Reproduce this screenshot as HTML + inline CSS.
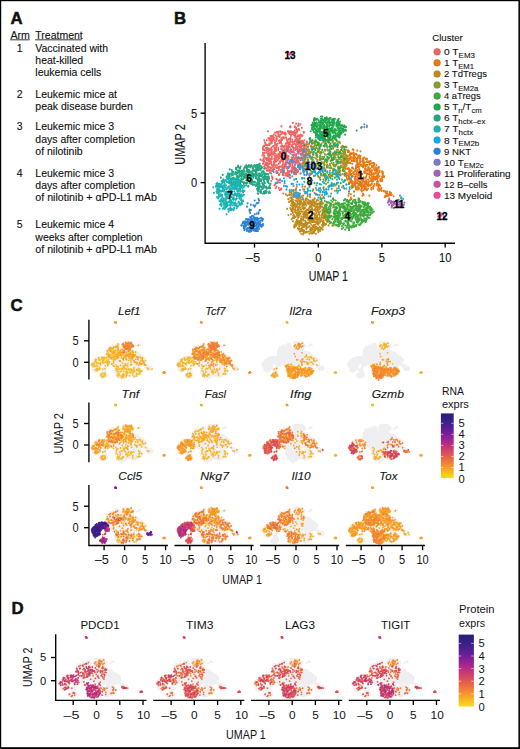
<!DOCTYPE html><html><head><meta charset="utf-8"><style>html,body{margin:0;padding:0;background:#fff}body{width:520px;height:749px;position:relative;overflow:hidden}</style></head><body><svg width="520" height="749" viewBox="0 0 520 749" style="position:absolute;left:0;top:0"><defs><path id="g0_0" d="M-32 -61h0m-42 40h0m31-52h0m-4 36h0m-5 13h0m-24-37h0m23-9h0m-3 59h0m25-33h0m-39-9h0m35-25h0m-5 55h0m5-5h0m-44 2h0m28-1h0m30-7h0m1-6h0m-38-8h0m24 15h0m12-2h0m-37 12h0m2-39h0m22 42h0m-2-1h0m-21-42h0m52 78h0m-48-36h0m3-21h0m-14 21h0m22-10h0m-12-20h0m31 5h0m-48 24h0m37-19h0m-28 5h0m21 19h0m-28-48h0m-16 24h0"/><path id="g0_1" d="M-18 -59h0m-38 45h0m-5-52h0m26 12h0m-10-19h0m-5 59h0m1-24h0m3-34h0m-42 33h0m60-6h0m2-2h0m12 5h0m-42 11h0m-16-21h0m47 6h0m-6 15h0m1-14h0m-3-15h0m5 35h0m0-32h0m-50 17h0m42-7h0m-6-7h0m7 26h0m-34-7h0m10 4h0m-26-7h0m56 4h0m-35 13h0m-21-2h0m32-30h0m89 6h0m-75 28h0m-43-27h0m65 0h0m-68-7h0m41-6h0m16 18h0m-28 8h0m15 17h0m10-28h0m-47 10h0m1 3h0"/><path id="g0_2" d="M-42 -73h0m10 6h0m-37 41h0m1-24h0m-5-7h0m42-28h0m-16 38h0m7 17h0m18-10h0m-34-25h0m-8 9h0m-14 24h0m13 16h0m20-12h0m-15-14h0m6-4h0m20-30h0m-40 74h0m2-58h0m39-15h0m-4 0h0m-33 6h0m15 85h0m20-55h0m-15-14h0m10-17h0m-12 1h0m36 37h0m-15-25h0m-33 36h0m30-10h0m-40-3h0m1-3h0m24-12h0m-28 22h0m8-23h0m7 58h0m-20-62h0m85 62h0m-58-53h0m-25 11h0m30-6h0m-25-22h0m26 40h0m2 11h0m-16-39h0m26 20h0m6-16h0m12-7h0m-15-20h0m-31 7h0m29-5h0"/><path id="g0_3" d="M-85 -61h0m8 14h0m10-21h0m44 45h0m-13 9h0m-11-37h0m18 24h0m-41-36h0m32 7h0m-28 20h0m1-17h0m27-6h0m-39 11h0m32 37h0m-17-7h0m48-26h0m-14-12h0m-20 44h0m-22-3h0m57-24h0m-3 9h0m-50 36h0m-6-23h0m31-8h0m9-24h0m-25 15h0m-17-9h0m47-25h0m-34 56h0m-12-48h0m30 29h0m24-15h0m7 11h0m-67 18h0m121-25h0"/><path id="g0_4" d="M-47 -15h0m17-47h0m-47 1h0m59 14h0m-4-3h0m-3 8h0m-5-17h0m12 1h0m-35 20h0m-7-1h0m16-21h0m20 2h0m-38 31h0m-7 0h0m3-9h0m27-37h0m-39 9h0m49 0h0m-45 37h0m63-25h0m-51 30h0m18-58h0m8 14h0m-37 26h0m-7-14h0m41 59h0m-9-53h0m-3 15h0m4-23h0m13 22h0m-42-6h0m83 25h0m-46-35h0m-25 49h0m27-71h0m-47 47h0m-2-17h0m45 7h0m-44-1h0"/><path id="g0_5" d="M-67 8h0m12-20h0m-7-23h0m-13 14h0m18-51h0m-30 22h0m60-2h0m-34 29h0m24-57h0m-12 29h0m14 12h0m-42 17h0m21-24h0m15-27h0m10 31h0m-35 28h0m-9-3h0m10-56h0m46 53h0m-54-14h0m0-29h0m27-10h0m-8 55h0m20 0h0m-8-55h0m1 37h0m-50 3h0m31-25h0m-4 21h0m22 21h0m-16-54h0m48 33h0"/><path id="g0_6" d="M-50 -37h0m-17 4h0m30 15h0m3-40h0m-27 1h0m2 5h0m13 8h0m20-35h0m-41 38h0m11-12h0m7-6h0m-36 12h0m41-17h0m33 20h0m-59 14h0m-16-17h0m54-21h0m-41 7h0m-4 33h0m54-2h0m-27-6h0m57 26h0m-84-7h0m-5-10h0m42-18h0m-29 11h0m-17 6h0m12-2h0m44 2h0m-26 7h0m22-56h0m-4 63h0m-31-18h0m1-25h0m5 35h0m35 1h0m-38-40h0m58 9h0m-34 38h0m-5-34h0m1 32h0m25-39h0"/><path id="g0_7" d="M-53 -25h0m25 3h0m16-30h0m-22-14h0m-10 4h0m-10 27h0m-5-9h0m23 8h0m-13 0h0m40 8h0m-17-39h0m4 37h0m-62-6h0m16-2h0m28-6h0m4 29h0m-46-35h0m57 22h0m8-23h0m-36 7h0m16-16h0m3-1h0m-13 7h0m55-4h0m-47 36h0m-23-38h0m-20 31h0m100 17h0m-56-57h0m10 56h0m-37-59h0m4 42h0m-15-9h0m52 11h0m-41 24h0m-7-3h0m5-23h0m-1-1h0m-10-33h0m16 64h0m15-62h0m10-7h0m-2 47h0m67-4h0m-85 11h0"/><path id="g0_8" d="M-54 -72h0m-9 2h0m9 47h0m16-20h0m11 3h0m-59-12h0m76-4h0m-30 28h0m17-26h0m0 1h0m-15 40h0m5-38h0m-12 6h0m-12 3h0m14-27h0m-33 28h0m19 3h0m3 16h0m16-18h0m-28-8h0m6-21h0m54 53h0m-33-21h0m-35 20h0m10-15h0m-7 8h0m6 10h0m-9-30h0m57-2h0m-17-15h0m-44 57h0m9-40h0m11 53h0m39-64h0m4 13h0m-28-25h0m-31 22h0m33-27h0m8 27h0m-16-16h0m17 2h0m-39-7h0m38 34h0m10-25h0m-26 47h0m21-59h0m-45 52h0m18-54h0m9 8h0"/><path id="g0_9" d="M-40 -58h0m-1-1h0m3 25h0m19-5h0m-16 0h0m-36-2h0m41-22h0m-41 45h0m-2 9h0m33-42h0m-18-13h0m-21 46h0m51-8h0m-32 26h0m32-84h0m-53 51h0m48-19h0m-29 49h0m31-79h0m-17 72h0m-36-33h0m62-18h0m-37 43h0m28-45h0m-50 20h0m6-16h0m30 4h0m-21-9h0m34 32h0m64 17h0m-111-26h0m20-18h0m32 0h0m-17 42h0m82 5h0m-94-6h0m1-8h0m-22-16h0"/><path id="g0_10" d="M-74 -63h0m-4 28h0m0-7h0m-8 11h0m27-1h0m7-39h0m-3 32h0m0 7h0m19-37h0m-3 21h0m7-19h0m-13 60h0m-22-27h0m6-27h0m-20 44h0m46 5h0m-2-60h0m9 36h0m-8-26h0m-33 1h0m16 14h0m33 3h0m-48 12h0m-12-18h0m29-6h0m21-12h0m-29 53h0m-21-31h0m29 3h0m-1-29h0m-24 50h0m43-26h0m-4-33h0m-12 24h0m24 13h0m-17-8h0"/><path id="g0_11" d="M-64 -33h0m-9-31h0m58 9h0m-17 30h0m6-10h0m13-27h0m-31-19h0m6 65h0m-34-1h0m14-44h0m28 9h0m-31-15h0m32 8h0m-2-18h0m-27-4h0m24 46h0m-32-20h0m16-8h0m-28-1h0m16 53h0m-3-52h0m30 46h0m-13 0h0m-13-50h0m20 49h0m-13 4h0m3-31h0m17-15h0m-2 24h0m-37-6h0m51 10h0m-1-41h0m-19 1h0m53 70h0m-46-77h0m5 59h0m-17-33h0m-34 18h0m32 25h0m13-40h0m29-7h0m-72 3h0m-1 19h0m42 6h0m-22-44h0m-1 84h0"/><path id="g0_12" d="M-64 -21h0m4-8h0m9-27h0m2 36h0m-20 1h0m33-48h0m9 13h0m-50 21h0m45-9h0m-34 37h0m40-36h0m-22-33h0m1 2h0m-9 57h0m13-30h0m-35-4h0m12 33h0m36-29h0m-12-9h0m11 19h0m-21 8h0m64 37h0m-84-15h0m4-42h0m35 18h0m-14-29h0m18 7h0m-27 27h0m12-3h0m21-20h0m-60 13h0m25 11h0m-17-33h0m50-3h0m-53 23h0m45 0h0m-9 0h0m-16-13h0m17-9h0m10-5h0m-35 17h0m39 23h0"/><path id="g0_13" d="M-68 -58h0m41 8h0m-48-17h0m42 38h0m2-31h0m-36 11h0m-20 1h0m32 19h0m15-26h0m-28-17h0m-5 31h0m19 25h0m29-32h0m-34-10h0m30 2h0m-33 45h0m-11-51h0m51 12h0m-45 26h0m-16-30h0m32 25h0m-18-10h0m71 32h0m-35-67h0m-52 43h0m36 20h0m-6-22h0m22-23h0m-46 32h0m40 3h0m-19-27h0m-12 28h0m21-15h0m26 0h0m-55 4h0m25-4h0m9 11h0"/><path id="g0_14" d="M-26 -56h0m-60 4h0m31 36h0m-23-22h0m-1 13h0m55-24h0m-12-6h0m-12 7h0m-32 1h0m26-17h0m-6 26h0m-25-9h0m38 38h0m14-9h0m-19 8h0m-14-41h0m25-11h0m-22 21h0m1 21h0m18-54h0m14 21h0m-58 21h0m55 3h0m-41-37h0m23 53h0m0-57h0m-29 42h0m22-34h0m28-14h0m-13 30h0m-4 31h0m-23-12h0m38 11h0m-23-30h0m31-11h0m5 9h0m-7 12h0m-50 22h0m28 0h0m-7 0h0m-24-25h0m19-35h0m35 47h0m-34 37h0m43-62h0"/><path id="g0_15" d="M-75 -61h0m31 35h0m-4 4h0m-2-9h0m16 16h0m-8-6h0m-26 24h0m-5-28h0m7-6h0m27-15h0m3-3h0m61-6h0m-91 16h0m30-26h0m-11 27h0m-36-18h0m61 4h0m-47 23h0m21-20h0m59 30h0m-34-29h0m-44-7h0m13-10h0m26 18h0m16-12h0m43 12h0m-75 0h0m4 26h0m11 2h0m-47 1h0m54-30h0m-57-26h0m10 78h0m16-25h0m-16-21h0m52-13h0m-66 34h0m25-35h0m95 27h0m-66-37h0m5 25h0"/><path id="g0_16" d="M-43 -47h0m-31 19h0m1-19h0m47-13h0m-6 43h0m12-17h0m-16 21h0m-29-12h0m28-43h0m16 15h0m-4 59h0m-22-57h0m-40 8h0m30-10h0m-23 30h0m6-27h0m33 41h0m18-63h0m-21-8h0m7 47h0m-37-34h0m0 19h0m11 1h0m39 20h0m-5-26h0m-41 28h0m19-40h0m-17 43h0m22 8h0m-31-42h0m1 9h0m106-8h0m-108 10h0m53-23h0m-52 14h0"/><path id="g0_17" d="M-35 -12h0m-4-57h0m-5 27h0m-3 21h0m-13-16h0m3-1h0m7-13h0m28-2h0m-61 25h0m70-14h0m-19-13h0m-49-6h0m13 7h0m39-6h0m-8 35h0m3-33h0m-15 47h0m15-53h0m21 5h0m-62 27h0m41 38h0m-26-10h0m39-31h0m-24 8h0m-17-13h0m9-12h0m-29 32h0m43-30h0m31 9h0m-50 5h0m83-4h0"/><path id="g0_18" d="M-69 -47h0m-13 22h0m42-61h0m-7 35h0m22-2h0m-8 38h0m3-11h0m-11-6h0m-15 6h0m-23 5h0m32-13h0m-12 44h0m-2-54h0m72-2h0m-35-13h0m-23 31h0m27-16h0m-30 18h0m9-14h0m-34-23h0m28 15h0m12-4h0m57 12h0m-79 21h0m-15-48h0m4 22h0m-9-3h0m32-9h0m80 18h0m-106-5h0m-15 10h0m20-26h0m-18 2h0m95 41h0m-55-13h0m-36-2h0m35-38h0m-3 38h0m-27-2h0m11-4h0m-17-10h0m21 9h0"/><path id="g0_19" d="M-62 -41h0m-1-32h0m33 15h0m-12 29h0m4 17h0m-24-23h0m-1-32h0m44 25h0m-63-8h0m52 5h0m-4-3h0m-4 33h0m31-35h0m-48 5h0m10-6h0m-12-1h0m4 3h0m-3 7h0m22-30h0m-16 24h0m-11 26h0m14-52h0m13 43h0m-17-7h0m16-47h0m11 40h0m-63 18h0m52-33h0m-36 8h0m-7 45h0m46-75h0m-31 43h0m8 23h0m0 5h0m-2-62h0"/><path id="g1_0" d="M59 9h0m27-22h0m-30 15h0m12-26h0m-24-1h0m34 6h0m10 1h0m-24 3h0m28 10h0m-33-19h0m42 16h0m-23 7h0m-5 0h0m17-5h0m-4-3h0m-36 8h0m16-11h0m20 0h0m-35-22h0m24 9h0m-21 11h0m-4-14h0m33 36h0m19 4h0m-39-9h0"/><path id="g1_1" d="M86 6h0m9-3h0m-2-5h0m-5-6h0m-24-12h0m-20 12h0m19-7h0m24 20h0m-42-15h0m41-12h0m-8 31h0m-5-4h0m-23-7h0m18 15h0m-8-39h0m-7-10h0m-14 10h0m57 35h0m-34-33h0m37 36h0m-51-12h0m-4-36h0m3 6h0m27 40h0m-20-58h0m3 49h0m23-9h0m-27-28h0m-11-8h0m61 57h0m-56-18h0m-8-14h0m1-15h0"/><path id="g1_2" d="M68 7h0m-42 5h0m27-21h0m17 13h0m-30-48h0m68 60h0m-47-34h0m-1-16h0m14 17h0m-20 8h0m37-11h0m-20 13h0m11-8h0m-25-1h0m51 29h0m-31-30h0m17-4h0m-8 28h0m-14 2h0m-26-29h0m3 6h0m16-23h0m16 31h0"/><path id="g1_3" d="M71 -30h0m5 31h0m-15-31h0m3 7h0m16 42h0m12-17h0m-48-34h0m19-7h0m4 35h0m19-8h0m7-6h0m14 33h0m-4-23h0m-64-26h0m58 39h0m-43-14h0m53 28h0m-36-50h0m-11 22h0m-9 5h0m30 2h0m16-3h0m-28-7h0m-11 3h0m31 5h0m-6-14h0m-42-18h0"/><path id="g1_4" d="M75 -3h0m-4-20h0m-17 29h0m2-46h0m30 36h0m-23 27h0m-18-36h0m50-9h0m-1 11h0m-42-31h0m27 47h0m27 10h0m-23-31h0m-23-16h0m7 6h0m48 44h0m-22-24h0m2 14h0m-35-21h0m24-11h0m-8-1h0m10 34h0m-38-14h0m15-6h0m-11 12h0m22 8h0m-16-11h0m24 6h0m-45 3h0m39 3h0m-4-46h0"/><path id="g1_5" d="M57 -6h0m30-22h0m-14-1h0m-27 25h0m17-34h0m-7 51h0m-8-25h0m9 13h0m15-26h0m-3 23h0m42 19h0m-47-9h0m-2-11h0m-23-24h0m59 23h0m-34 6h0m6-30h0m1 1h0m-20 49h0"/><path id="g1_6" d="M64 4h0m0-9h0m31 17h0m-13-9h0m-7-11h0m-1-12h0m-14 28h0m-18-28h0m13 5h0m21 18h0m-23-24h0m54 37h0m-23-38h0m0 21h0m-5 0h0m11-13h0m-25-17h0m-15 26h0m44-17h0m-10 9h0m-24 9h0m16-30h0m-17-7h0m4 31h0m-5-26h0m18 6h0m17 18h0m-28-4h0m6 14h0m3 11h0m-15-14h0m19 8h0m20 7h0m-7-25h0"/><path id="g1_7" d="M52 -17h0m-4 10h0m21 3h0m9 9h0m4-21h0m-16 21h0m11-35h0m19 41h0m-32-39h0m0 30h0m40 19h0m-43-54h0m41 24h0m-28 3h0m-10-22h0m23 8h0m19 40h0m-61-26h0m7 14h0m7-28h0m42 5h0m-1 8h0m-3 5h0m-36 3h0m5-11h0m-25-14h0m60 16h0m12 26h0"/><path id="g1_8" d="M60 -29h0m34 15h0m-22 16h0m22-10h0m-3-17h0m-25-13h0m-7 48h0m-3 3h0m-8-29h0m9 15h0m24-25h0m-6 8h0m-51 23h0m28 19h0m17-19h0m31-21h0m-23-9h0m-24 16h0m22 11h0m-25-37h0m41 30h0m-20 23h0"/><path id="g1_9" d="M63 -5h0m-5-36h0m-9 8h0m28 20h0m-24 18h0m9 2h0m-11-44h0m48 45h0m-30-8h0m-18 17h0m22-42h0m-18-15h0m-2 38h0m-1 7h0m44-14h0m-40 11h0m23-14h0m10-5h0m11 3h0m-50 14h0m25 6h0m16-23h0m-60-4h0m8 2h0m7-20h0m46 29h0m-44 23h0"/><path id="g1_10" d="M49 -39h0m24 19h0m-18 0h0m1 24h0m44-8h0m-13-9h0m-22 3h0m27 12h0m-23 17h0m-30-64h0m22 9h0m51 54h0m-53-30h0m54 27h0m-17-30h0m-4-2h0m-22-18h0m17 28h0m-22-31h0m4 7h0m-3-14h0m13 23h0m-38-10h0m29 8h0"/><path id="g1_11" d="M44 -26h0m-3-1h0m52 26h0m-19 0h0m-16 7h0m20-25h0m18 2h0m-21-7h0m-22 28h0m17-29h0m-21-15h0m18 40h0m33-2h0m-34-14h0m-1-23h0m17 8h0m1 41h0m-18-11h0m-6-21h0m28 14h0m5 7h0m-4 3h0m-38-44h0m28 21h0m9 12h0m15 1h0"/><path id="g1_12" d="M43 -20h0m27 19h0m-15-41h0m9 29h0m9 22h0m-25 7h0m41-22h0m-43-40h0m41 41h0m8 8h0m-27 9h0m41 7h0m-58-31h0m50 3h0m-46-38h0m29 39h0m-36-1h0m-5-3h0m6-16h0m25-6h0m-16 38h0m-19-44h0m52 44h0m10-16h0m-13-15h0m12 18h0m-37 19h0m-8-41h0m26 11h0m3 22h0m-45-28h0m28 31h0m-18-40h0m10 14h0"/><path id="g1_13" d="M111 17h0m-52-16h0m-13-29h0m26 12h0m21-1h0m-19-6h0m-25 4h0m3 7h0m10 1h0m21-4h0m7 7h0m-40-3h0m21 17h0m-3-4h0m19-25h0m-52-7h0m21-8h0m10 40h0m23-8h0m-18-1h0m16-18h0m-43-9h0m4 14h0m-5-15h0m18-11h0m-7 45h0m-11-28h0m57 25h0m-47-23h0m2-8h0m8 39h0m27-17h0"/><path id="g1_14" d="M87 -6h0m-23-29h0m-21 15h0m50 30h0m-27-23h0m12 9h0m-2-30h0m7 30h0m-35-4h0m9-25h0m34 25h0m-39-33h0m34 38h0m8 8h0m-2-24h0m-38 21h0m26-32h0m-37-9h0m22 40h0m9-16h0m-32 5h0m27 13h0m-11-20h0m16 19h0m-26 0h0m32-20h0m25 31h0m-64-40h0m9 22h0m64 20h0m-67-60h0m8 9h0m0 39h0m11-28h0m-26 8h0m17 21h0"/><path id="g1_15" d="M94 6h0m-54-38h0m3-20h0m29 38h0m26 12h0m-14-15h0m-27-19h0m35 28h0m-31 18h0m13-10h0m-27-46h0m43 39h0m-28-16h0m-17 18h0m8-27h0m3 51h0m30-21h0m-42-29h0m74 51h0m-35-31h0m29 28h0m-48-35h0m-7-13h0m-19-5h0m18 24h0m-9-32h0"/><path id="g1_16" d="M80 -28h0m-14-7h0m37 26h0m-57-29h0m-6 16h0m25 16h0m6 1h0m-9-17h0m-15-9h0m4-10h0m17 48h0m44 7h0m-38-15h0m-19-41h0m21 12h0m0 19h0m0 22h0m3-41h0m-19-10h0m6 6h0m-10-6h0m8 39h0m-16-44h0m0 17h0m-1-7h0m58 54h0m-35-41h0m-2 16h0m-1 17h0m-6-27h0m44 29h0m-15-33h0"/><path id="g1_17" d="M75 -13h0m13 6h0m-6-20h0m-12-6h0m-27 19h0m51-7h0m-32 14h0m2-28h0m-5 35h0m-7-31h0m-5 11h0m44 15h0m-52-17h0m54 22h0m8-13h0m-13 0h0m-42-21h0m12 26h0m21 10h0m11-24h0m-31 30h0m2-2h0m-17 3h0m0-19h0m13 5h0"/><path id="g1_18" d="M42 -22h0m20-5h0m-22-1h0m44 0h0m-18 21h0m7 13h0m7-18h0m-25-31h0m-5 28h0m-13-36h0m43 36h0m4 11h0m-44-38h0m6 11h0m7 9h0m-4-17h0m17 34h0m-19-5h0m18 9h0m-15-41h0m6 9h0m-14-8h0m12 43h0m10-29h0m17 31h0m-20-6h0m14 3h0"/><path id="g1_19" d="M66 -29h0m-16 11h0m16-13h0m14 5h0m-22 8h0m34 11h0m19 30h0m-41-7h0m-21-32h0m-20 25h0m57-36h0m24 46h0m-17-16h0m-46 16h0m37-25h0m-40-7h0m51 17h0m-35-18h0m21 3h0m-29 9h0m1 1h0m18 12h0m-5-36h0m2 34h0m6-28h0"/><path id="g2_0" d="M25 47h0m-66-9h0m28-8h0m3 26h0m-30-28h0m-2-16h0m55 3h0m-47 39h0m34-28h0m-30 37h0m-7-1h0m31-38h0m16 14h0m-31 5h0m-3 17h0m7-32h0m-17 16h0m23 17h0m-19 0h0m40-18h0m-4 2h0m-28 1h0m5 19h0m-7-32h0m-12-14h0m9 35h0m-2 13h0m23-11h0m20-3h0"/><path id="g2_1" d="M7 47h0m-14 24h0m-2-14h0m6-30h0m-3 2h0m0-6h0m-33 12h0m0-5h0m63 32h0m-34-30h0m8 27h0m-8 9h0m7-4h0m-39-34h0m11 1h0m16 40h0m27-22h0m-4 9h0m-25-29h0m-32-10h0m44 33h0m16 8h0m-42-38h0m-3 12h0m19 6h0m-16-10h0m27 11h0m-27 2h0m38 19h0m-40-31h0m40 37h0m4-22h0m-3 3h0m-2-18h0"/><path id="g2_2" d="M7 51h0m-6 2h0m3 3h0m-16-29h0m-7 24h0m-18 13h0m36 4h0m-37-17h0m4-24h0m-17-10h0m28 11h0m21 7h0m-19 12h0m-3-28h0m18 31h0m-37-11h0m16 0h0m39-6h0m-15 11h0m-16 3h0m27-5h0m-28-18h0m33 23h0m-18 17h0m-14-13h0m31-16h0m-47 9h0m13-7h0m-15-7h0"/><path id="g2_3" d="M3 32h0m-20-12h0m-2 3h0m-15 37h0m9-30h0m8 29h0m-3 13h0m-20-39h0m18-4h0m-18 27h0m33 0h0m2-25h0m-13 41h0m-20-7h0m8 2h0m-5-58h0m27 18h0m-10 31h0m20-10h0m-46-11h0m5 10h0m54 8h0m-16-4h0m-33-28h0m24 51h0m-6-30h0m-12-12h0m-1 13h0m20 8h0m8 7h0m11 1h0m-10-2h0m-13-33h0m-14-6h0m-2 37h0m4-22h0m-15-23h0"/><path id="g2_4" d="M-23 51h0m-2-19h0m-2 30h0m21-34h0m-16 15h0m8 14h0m-23-15h0m33-11h0m-9 5h0m-7-10h0m6-7h0m27 24h0m-23-4h0m-15-4h0m7 36h0m-1-25h0m22 24h0m-17-40h0m-17 6h0m8 36h0m-16-55h0m30 16h0m8 24h0m1 10h0m2-16h0m-19 8h0m19 10h0m4-46h0"/><path id="g2_5" d="M-41 41h0m23-1h0m-27-23h0m21-7h0m0 40h0m-8-23h0m41 19h0m-16 16h0m-15-30h0m-10-5h0m10-17h0m26 14h0m20 11h0m-56 10h0m10-2h0m-4 24h0m27-13h0m-40-35h0m-1 12h0m-7-7h0m9 9h0m31 40h0m-8-9h0m-23-16h0m34 26h0m-11-10h0m10 5h0m-10-31h0m4 35h0m-22-14h0m-1-24h0m20 39h0"/><path id="g2_6" d="M6 62h0m-39-34h0m34 11h0m-3 28h0m-10 4h0m-20-32h0m31-8h0m1 41h0m-1-12h0m-32-42h0m-4 13h0m46 28h0m-40-1h0m7 17h0m32-14h0m-28-16h0m6 13h0m-2-33h0m5 43h0m3-58h0m-15 59h0m-19-16h0m40-22h0m-13 51h0m12-31h0m-2-4h0m17-9h0m-42-12h0m25 35h0m-22-36h0m-2 32h0"/><path id="g2_7" d="M-36 35h0m33 1h0m-7 1h0m8-12h0m-11 43h0m17-39h0m-35-9h0m4 34h0m19 0h0m21-14h0m-23-2h0m9 4h0m12-2h0m-49-24h0m3 45h0m8 13h0m16-8h0m3-40h0m-4 32h0m7-27h0m-17 1h0m-3 5h0m2 26h0"/><path id="g2_8" d="M-14 63h0m-16-29h0m32-2h0m-32 24h0m-14-29h0m42 20h0m-19-18h0m-2 16h0m38 12h0m-17-18h0m-34-13h0m22-22h0m18 62h0m1-19h0m-10-17h0m-36 9h0m0 0h0m3 23h0m-1-11h0m0-12h0m18 24h0m24-21h0m-45-31h0m48 29h0m11 2h0m-19-8h0m-10 16h0m8 17h0m17-35h0m-2 8h0m-48-9h0m0 11h0m8-12h0m40 13h0"/><path id="g2_9" d="M-2 49h0m16 1h0m-44-34h0m10 45h0m3-14h0m-19-36h0m6 25h0m-9 12h0m33-16h0m-29-21h0m27 60h0m9-41h0m21-2h0m-19 9h0m10 19h0m-23 12h0m-12-23h0m-14-14h0m24 38h0"/><path id="g2_10" d="M9 48h0m-53-26h0m3 4h0m-6 21h0m55-7h0m-20 0h0m-27-26h0m38 27h0m-5 27h0m-28-35h0m-9-15h0m19 19h0m13 30h0m-10-61h0m15 41h0m-3-22h0m-34 21h0m48 20h0m3-26h0m-10-5h0m-36 16h0m34-15h0m-19 37h0m-5-42h0m17-2h0m-17 0h0"/><path id="g2_11" d="M-27 59h0m34 0h0m-31-6h0m-4-28h0m-12 8h0m39 33h0m-20-11h0m-16 9h0m19-5h0m44-10h0m-18-1h0m5-5h0m-12 3h0m-31 1h0m25 6h0m12-23h0m1 21h0m-35 6h0m19-28h0m-20 41h0m12-31h0m32 23h0m-13-31h0m-7 17h0m-18-18h0m-14 10h0m44 8h0m-15-3h0m-26 12h0m24 0h0m9-21h0m14 20h0m-21-16h0m-4-6h0m10 33h0m-11-27h0m23 21h0m-8-26h0m10 14h0m-5-7h0"/><path id="g2_12" d="M-31 40h0m-15-22h0m15 20h0m-4 19h0m-5-6h0m17-3h0m-7 13h0m9-2h0m29-18h0m-40 14h0m40-18h0m-37-6h0m12 20h0m-3-20h0m23-10h0m6 31h0m-56-28h0m55 31h0m-37-27h0m24 10h0m5 32h0m-25-2h0m13-20h0m-7 16h0m-22-36h0m48 12h0m-3 27h0m-14-24h0m0 1h0m0 4h0m-12 12h0m10 7h0m20-26h0m-37 30h0"/><path id="g2_13" d="M-22 49h0m20 7h0m-18-12h0m-7-16h0m39 26h0m-17 12h0m-18-35h0m35 23h0m-35-15h0m23 27h0m-34-4h0m20-35h0m-28-4h0m16 19h0m-19-28h0m20 56h0m-21-42h0m46 33h0m-32-24h0m41 3h0m3-1h0m-35 31h0m-15-22h0m22 6h0m-24-10h0m19 6h0"/><path id="g2_14" d="M25 60h0m-55-41h0m19 36h0m-2-21h0m-19 14h0m6 17h0m-5-21h0m0 12h0m-7-37h0m63 37h0m-45-15h0m12 22h0m10-45h0m-38 32h0m6-28h0m-13-8h0m20 57h0m19-41h0m2 24h0m-10 12h0m-21-43h0m46 25h0m-8-13h0m-4 10h0m-5 12h0m16-8h0m-39 21h0m23-19h0m-38-28h0m15 30h0m-9-18h0m22 18h0m-25-35h0m52 18h0m-33-11h0m-14 22h0"/><path id="g2_15" d="M-3 11h0m-28 12h0m-10 12h0m8-14h0m20 37h0m-19-34h0m7 18h0m40 8h0m-42-1h0m-2-33h0m-11 9h0m20 47h0m31-36h0m-6 18h0m-38-14h0m24 32h0m-26-10h0m11 0h0m14-22h0m-9 27h0m-11 0h0m9-19h0m-11 3h0m25 6h0m14-27h0m-28 7h0m-18-16h0m49 25h0m-50-9h0m-9 1h0m38 17h0m-28-43h0m8 36h0m14-20h0m3 27h0"/><path id="g2_16" d="M-33 41h0m47 15h0m-53-23h0m9-16h0m41 35h0m-54-25h0m53 24h0m-27-1h0m2-19h0m26 17h0m-20 6h0m-5-18h0m31 9h0m-49 21h0m-10-50h0m18 9h0m29 25h0m-16-22h0m-11 33h0m-2-6h0m25-12h0m-10-12h0m-20 11h0m11 19h0m29-11h0m-7 3h0m-23 10h0m-23-38h0"/><path id="g2_17" d="M-35 21h0m4 47h0m11-42h0m10 3h0m-29 0h0m47 8h0m-26 6h0m25 21h0m-2-34h0m1-12h0m-35 18h0m5-12h0m17 37h0m-2 2h0m-18-11h0m10-6h0m24 11h0m-4-1h0m-20-26h0m-19 7h0m25 6h0m-28-9h0m15 12h0m18 0h0m-33-29h0m40 18h0m-2 3h0m-30 9h0m33 11h0m-30 2h0m-12-21h0m30-7h0m-29 16h0"/><path id="g2_18" d="M-36 21h0m30 24h0m-12-21h0m19 7h0m-14-10h0m-3 38h0m33-30h0m-20 24h0m-9-18h0m-12 29h0m24-6h0m11-20h0m-5-3h0m-27-19h0m44 20h0m-58-22h0m28 51h0m-6-47h0m16 19h0m-8 3h0m17 20h0m-47-26h0m29 0h0m-28 14h0m22 1h0m5-15h0m8 34h0m-8 0h0m9-4h0m-16-57h0m-16 52h0m21 6h0m-19-26h0m13-9h0m-5 12h0m26 19h0m-22-10h0"/><path id="g2_19" d="M-22 64h0m-3-5h0m6-11h0m-23-7h0m29 11h0m-5-13h0m6 12h0m-8 6h0m15-27h0m-38 3h0m2-13h0m35 14h0m-15 2h0m10-6h0m19 27h0m-27 3h0m16-1h0m-16-26h0m-9 12h0m-9-6h0m6 11h0m3-28h0m16 11h0m-3 10h0m26 8h0m-10 18h0m-22-19h0m24-22h0m-26 33h0m-8-40h0m-5 38h0"/><path id="g3_0" d="M33 -20h0m-34-7h0m-14 6h0m56-26h0m-31 6h0m-1-21h0m16 19h0m9 8h0m-10-19h0m2 15h0m12-14h0m-1 16h0m-10-25h0m-43 32h0m-4-19h0m58 4h0m-30 1h0"/><path id="g3_1" d="M-9 -42h0m52-5h0m-40 10h0m22-1h0m-7-3h0m-12 21h0m11-15h0m24 0h0m-30-37h0m-16 17h0m-11 13h0m18-6h0m34 24h0m-18-19h0m2 22h0m-11-43h0m-16 28h0m31 8h0m8 0h0m-21-32h0m15 4h0m-16 44h0"/><path id="g3_2" d="M38 -17h0m-32-17h0m-4-28h0m-3 35h0m28-16h0m-3 9h0m-30 12h0m37-1h0m-13-4h0m20-25h0m-39-2h0m11 23h0m11-30h0m3 7h0m-5 45h0m-40-24h0m31-14h0m-34 1h0m31 18h0"/><path id="g3_3" d="M15 -24h0m16-16h0m-4-17h0m-2 20h0m-36 21h0m45 4h0m-23-19h0m-14-27h0m-5 17h0m13-15h0m32 14h0m-34 8h0m29-24h0m-29 42h0m-13-45h0m-8 46h0m30 10h0m25-34h0m-53-9h0m37 20h0"/><path id="g3_4" d="M18 -52h0m13 19h0m-56 9h0m19-32h0m21 22h0m-20-27h0m-16 22h0m65-12h0m-53 3h0m45 15h0m-38-4h0m34 21h0m-7-36h0m-15 5h0m-21 13h0m53 0h0m-36 11h0m10-12h0m14 21h0m1-23h0m13-2h0m-64-3h0m55 31h0m-48-26h0"/><path id="g3_5" d="M10 -17h0m31-34h0m-23 26h0m-18-1h0m43-1h0m-60-24h0m48-7h0m-32 31h0m33-2h0m-9-7h0m-24-21h0m2 8h0m-25 10h0m46 30h0m20-17h0m-28-8h0m-6 22h0m30-38h0m-50 6h0m32 6h0m-21-6h0m24-16h0m-1-1h0m-31 10h0"/><path id="g3_6" d="M3 -15h0m23-30h0m-28 5h0m1 30h0m7-12h0m31-15h0m-23 23h0m-10-30h0m-6 4h0m14 42h0m-1-49h0m-21 18h0m40-24h0m-43 17h0m38-4h0m1 28h0m-30-48h0m9 30h0"/><path id="g3_7" d="M16 -61h0m-19 22h0m-4 29h0m11 0h0m-13-48h0m13 15h0m-14 22h0m-4-22h0m32-2h0m-35 9h0m31-24h0m19 1h0m-10 33h0m-16 6h0m26-21h0m-48 22h0m10-36h0"/><path id="g3_8" d="M-20 -23h0m23-15h0m-20-2h0m36 9h0m4-18h0m-14 22h0m10 16h0m25-13h0m-40-29h0m26-1h0m10 12h0m-4-9h0m-2 34h0m-12-35h0m9 33h0m-42-16h0m8 15h0"/><path id="g3_9" d="M11 -33h0m-30 5h0m60 18h0m0-34h0m-15 0h0m-17 26h0m37-26h0m-31 3h0m-1-7h0m4 3h0"/><path id="g3_10" d="M18 -54h0m-1 2h0m15 35h0m-19-15h0m24 10h0m-37 14h0m-14-5h0m49-11h0m-1-33h0m-59 25h0m52-20h0m2 37h0m-49-3h0m54 7h0m-26-48h0"/><path id="g3_11" d="M-8 -23h0m25 2h0m17-22h0m-56 15h0m49 4h0m-10 16h0m23-21h0m-11-11h0m-28-13h0m25 9h0m-27 13h0m26 6h0m-19-12h0"/><path id="g3_12" d="M26 -23h0m-5-17h0m-19 3h0m39-4h0m-30 29h0m-32-14h0m48-29h0m-8 15h0m-19 15h0m5-9h0m-4-18h0m1-3h0m-8-3h0m18 18h0m-37 15h0m15 12h0m14-5h0m-15 6h0m-12-24h0m42 15h0m-35-5h0m57-19h0m-57 12h0"/><path id="g3_13" d="M28 -41h0m3 13h0m-2 16h0m7-12h0m-43 15h0m23-49h0m5-3h0m-28 3h0m16 37h0m22 6h0m6-16h0m-28 9h0m33 0h0m-28-29h0m-1-10h0m-20 31h0m7-15h0m4 32h0"/><path id="g3_14" d="M0 -64h0m-20 35h0m5-11h0m45 8h0m-26 20h0m-19-32h0m54-8h0m-56 16h0m30 12h0m-12-22h0m3 12h0m13-9h0m-8 18h0m1-1h0m34-11h0m-42 30h0m16-10h0m-7-15h0m-11-16h0m19 27h0m16-21h0m-10 23h0m2-17h0m-36 3h0m-10-15h0"/><path id="g3_15" d="M3 -34h0m25 1h0m3 21h0m-21-45h0m-15 41h0m0-34h0m42 0h0m4 3h0m-57 16h0m51 3h0m-12 10h0m-37-29h0m30-11h0m20 20h0m-54 19h0m10-6h0"/><path id="g3_16" d="M45 -29h0m-12-5h0m-56-4h0m14 6h0m22-20h0m9-6h0m-42 29h0m23-9h0m-1-5h0m13-17h0m8 9h0m17 20h0m-48 5h0m33-8h0m-13 24h0"/><path id="g3_17" d="M40 -38h0m0 4h0m-24-24h0m-16 3h0m29 39h0m-32-26h0m36-24h0m-35 36h0m36 9h0m-37-29h0m37 5h0m-20 23h0m4-17h0m27 6h0m-26 25h0m8-7h0m-13-15h0m15-17h0"/><path id="g3_18" d="M10 -8h0m-21-44h0m30 28h0m10-3h0m-27 4h0m-4-26h0m19-14h0m-15 37h0m13-7h0m9 9h0m7 2h0m-27-40h0m-8 1h0m-19 31h0m32 1h0m-13-6h0m6 2h0m-4 0h0m3-24h0m26 40h0m12-5h0m-36-30h0m36 31h0m-24-25h0"/><path id="g3_19" d="M2 -37h0m35-14h0m-54 19h0m17-12h0m14 18h0m-3-32h0m-17 5h0m-15 17h0m22 13h0m-13-30h0m15 18h0m-14 20h0m31-25h0m-42 16h0m53 8h0m-8 1h0m-10-14h0m12-12h0m-33-3h0m-6 34h0m17-31h0m25 26h0m-5-5h0m-7-42h0"/><path id="g4_0" d="M19 31h0m15 10h0m2-6h0m9-3h0m-18-44h0m43 52h0m1 2h0m-31 8h0m-37-18h0m71 21h0m-7 0h0m2-25h0m14 12h0m-67 3h0m57-4h0m-40-54h0m-14 49h0m56 20h0m-1-22h0m-11 23h0m-35-17h0m4-7h0m-16 17h0m24 11h0"/><path id="g4_1" d="M64 33h0m-8 31h0m-45-32h0m18-20h0m47 29h0m-55-9h0m57 10h0m-14-3h0m-17 27h0m11-14h0m-8-12h0m15-6h0m-20-8h0m29 21h0m-40-11h0m25-3h0m1 4h0m-14 7h0m-4-5h0m22-3h0m-33 12h0m29 9h0m-30-7h0m53-10h0m-40 7h0m-15-10h0"/><path id="g4_2" d="M76 47h0m-13-22h0m18 15h0m-15-5h0m-46 13h0m10 9h0m42-2h0m-64-34h0m47 28h0m20-8h0m-48-37h0m-8 37h0m37 5h0m2 4h0m-22 2h0m-3-57h0m-4 6h0m-2 30h0m7 1h0m22 11h0m8 18h0m-22-64h0m-5 34h0m-19 25h0m51-8h0m-3-21h0m-49 8h0m64 8h0m-62-8h0m23 27h0m-32-28h0m49 15h0m-55-61h0m29-3h0"/><path id="g4_3" d="M50 51h0m34-7h0m-27-15h0m9 21h0m10-7h0m-22-36h0m18 37h0m-30-7h0m-1 14h0m-12-7h0m16 13h0m0-30h0m-26-7h0m43 38h0m-53-70h0m53 70h0m-15-31h0m-20 14h0m-14-3h0m3 16h0m-2-14h0m32 10h0m26 2h0m-33-20h0m29 8h0m-4-2h0m-10 7h0m-24-8h0m38 18h0m3-8h0m-19-6h0"/><path id="g4_4" d="M22 -5h0m63 44h0m-33 17h0m-56-83h0m34 81h0m-5-11h0m-8 5h0m54-17h0m2-1h0m-41 31h0m16 5h0m-2-34h0m-18 29h0m26-23h0m-6 2h0m6 10h0m19-21h0m-44 21h0m49-6h0m-68-17h0m18 26h0m52-2h0m-49 1h0m-19-19h0m35 29h0m-1-27h0m17-9h0m-37 24h0m40 11h0m-11-14h0m-3 2h0m17-2h0m-46-23h0m53 29h0m-43-13h0m44-10h0"/><path id="g4_5" d="M68 47h0m13-12h0m-12 19h0m-35 6h0m-7-30h0m6 29h0m-15 0h0m0-20h0m24-3h0m1 9h0m3 0h0m10 1h0m-25 10h0m17-12h0m-4 21h0m29-35h0m-45 18h0m3 6h0m15-17h0m4-1h0m-36-7h0m36 9h0m6-4h0m21 8h0m-74-18h0m-9-23h0m70 23h0m-51 4h0m18 35h0m-4-21h0m51-8h0m-38-8h0m28 32h0m-13-17h0m-31-16h0"/><path id="g4_6" d="M30 29h0m38 5h0m10 13h0m-11-4h0m-1 4h0m-22-14h0m-36-26h0m31-8h0m2-11h0m42 49h0m-5-6h0m-31 2h0m-2 30h0m29-32h0m-1 1h0m-15 2h0m-48 15h0m5-49h0m6 49h0m66-7h0m-31 20h0"/><path id="g4_7" d="M62 35h0m9-4h0m10 15h0m-34-17h0m17 24h0m-16-51h0m0 27h0m14 21h0m-20 18h0m-11-35h0m21-2h0m-11-6h0m-9 17h0m-21-48h0m18 8h0m0 46h0m12-1h0m6 7h0m-54-80h0m58 67h0m-3-1h0m29-1h0m-58 4h0m-33-43h0m30 37h0m31 11h0m-18 4h0m26 7h0m-22-10h0m28 4h0"/><path id="g4_8" d="M31 47h0m-3-77h0m32 59h0m10 26h0m-7-16h0m0 15h0m-17-12h0m-27-10h0m50 24h0m-17-26h0m-31-29h0m29 47h0m-2-16h0m12 8h0m-23 27h0m-3-20h0m11-20h0m-10-26h0m-22-8h0m36 59h0m-3-2h0m-32-7h0m40-16h0m-24 21h0m35-15h0m-14 13h0m-25 5h0m7-21h0m36 0h0m-27 26h0m-40-54h0m61 38h0m-25-9h0"/><path id="g4_9" d="M36 51h0m-10-6h0m6-2h0m25-3h0m-36-50h0m25 55h0m1 14h0m-4-18h0m-18 16h0m29-21h0m-6 33h0m-24-44h0m14 26h0m-14-1h0m3-12h0m8 19h0m-16-63h0m14 41h0m-10-47h0m35 39h0m-25 31h0m-11 4h0m22-17h0m-25-7h0m12 17h0m16 2h0m7-6h0m13-8h0"/><path id="g4_10" d="M20 26h0m34 2h0m-23 18h0m16-18h0m-2 23h0m29-12h0m-10-7h0m6 8h0m-4 19h0m-17 3h0m-8-24h0m33 16h0m1-21h0m-49 3h0m48 16h0m-28 4h0m13-9h0m-40 2h0m20-6h0m-15 2h0m9-11h0m-18 19h0m46-15h0m-38 21h0m22-34h0m29 28h0m-9-17h0m-48 9h0m44 7h0m-34-6h0m23 18h0"/><path id="g4_11" d="M-9 12h0m41 51h0m19-12h0m24-10h0m-44 1h0m-5-49h0m20 69h0m14-28h0m-10-9h0m21 11h0m-43 5h0m11 20h0m2-26h0m-8 17h0m-26-8h0m50 3h0m5 0h0m-7-4h0m1 15h0m19-20h0m-66-1h0m56 17h0m-6 0h0"/><path id="g4_12" d="M51 30h0m-1 25h0m13-7h0m-6-9h0m-28-48h0m-1 0h0m33 51h0m-34-1h0m37 11h0m-37-11h0m46-10h0m4 2h0m-13 22h0m-19-17h0m8-7h0m12 6h0m-57-41h0m64 51h0m-26 12h0m-15-29h0m0 15h0m21-9h0m-10-6h0m-18 2h0m5 21h0m17-27h0m1 17h0m24 1h0m-45 5h0m-12 2h0m30-24h0m-17-1h0"/><path id="g4_13" d="M70 29h0m-59-39h0m66 50h0m-7 15h0m-41 6h0m10-10h0m34-19h0m-15-2h0m2 31h0m6-16h0m14-9h0m-17-1h0m-35 17h0m5 7h0m-9-26h0m23 17h0m4-12h0m-26-36h0m6 53h0m34-15h0m-18 2h0m25-8h0m-50 19h0m6-1h0m-11-47h0m45 37h0m6 15h0m-60-48h0m27 27h0"/><path id="g4_14" d="M81 38h0m-52-7h0m44 13h0m-10-15h0m-18 9h0m5 7h0m-32-40h0m40 20h0m-20 10h0m1 13h0m-5-3h0m12 13h0m26-16h0m-6-6h0m11 14h0m-19-6h0m-39-10h0m21-4h0m15 14h0m4 1h0m-22 8h0m-32-26h0m44-1h0m-30 4h0m-3 9h0m69 4h0m-76-42h0m40 39h0m17 2h0m8-10h0m-35-1h0m-35-7h0m42 19h0m-26 15h0m26 2h0m-4-36h0"/><path id="g4_15" d="M52 39h0m22 18h0m-10-16h0m-25-58h0m40 68h0m-52 5h0m23-1h0m-16-85h0m3 62h0m-25-36h0m37 48h0m20-3h0m4-12h0m-55 22h0m44-10h0m-49-63h0m28 6h0m14 74h0m-2 5h0m12-17h0m-17 21h0m-10-22h0m-29-55h0m47 55h0m5 11h0m-14-17h0m-4 2h0m40 0h0m-50 3h0"/><path id="g4_16" d="M39 35h0m-5 4h0m24-2h0m3 13h0m11-16h0m-8 27h0m-18-17h0m-21 14h0m14-21h0m32 7h0m-24 18h0m7 0h0m5-31h0m-7 10h0m-11 0h0m30-12h0m-49-43h0m51 46h0m-30 15h0m-27-58h0m27 48h0m-6 26h0m33-18h0m-36-7h0m13 8h0m24 0h0m-52-42h0m50 52h0m-36 0h0m31-23h0m-42-29h0m-7 46h0m18-11h0m5-3h0m15 28h0"/><path id="g4_17" d="M35 55h0m2-13h0m0 17h0m41-22h0m1-7h0m-2 0h0m0 6h0m-62 8h0m41 20h0m-13-9h0m-1-15h0m6 13h0m-16 9h0m28-29h0m15 3h0m-20-1h0m-3 30h0m18-26h0m-38 4h0m-7-3h0m38 8h0m8 8h0m6-19h0"/><path id="g4_18" d="M31 -9h0m22 62h0m-28 4h0m0-7h0m46-8h0m10 5h0m-50 3h0m11-8h0m-26-13h0m55 20h0m-7-21h0m13 22h0m-3-12h0m-51-15h0m25 20h0m-35-10h0m41 3h0m-40 5h0m18-36h0m46 29h0m-50 1h0m0 27h0m-4-79h0"/><path id="g4_19" d="M41 40h0m-15 14h0m6 4h0m9-61h0m2 41h0m16 25h0m-28-13h0m43 7h0m-21 7h0m2-29h0m27 11h0m-17-8h0m-3 15h0m-2-24h0m-36 14h0m25 0h0m17 1h0m-27 21h0m1-31h0m-11 3h0m38-3h0m-23 16h0m21-22h0m-35 16h0m-18-3h0m-3 1h0m49 20h0m17-19h0m2 5h0m-61-5h0m40-18h0m-6 10h0"/><path id="g5_0" d="M-8 -76h0m23 10h0m16-23h0m-11 13h0m-23-5h0m30 10h0m-13-16h0m-22 47h0m31-44h0m-30 11h0m36 29h0m-16-37h0m-5 1h0m6 6h0m0-10h0m3 14h0m5-10h0m-22 16h0m9 3h0m2-26h0m-8 16h0m9-9h0m5-6h0m16 11h0"/><path id="g5_1" d="M10 -61h0m-16-25h0m22-1h0m16-5h0m-17 27h0m24-12h0m-40 32h0m34-28h0m-23 8h0m33-10h0m-44 20h0m4-19h0m16 0h0m20-4h0m-5 7h0m-42 23h0m22-27h0m25 2h0m-29 11h0"/><path id="g5_2" d="M32 -36h0m-23-34h0m15-19h0m-20 25h0m13 2h0m-18-11h0m13 40h0m11-33h0m44-13h0m-61-12h0m26 9h0m-26-4h0m10 11h0m-28 16h0m41-28h0m-10 17h0m12-8h0m6-4h0m-12 19h0m-14-24h0m-3 1h0m18 21h0m-11-5h0m-11-22h0m30 4h0m7 54h0"/><path id="g5_3" d="M1 -77h0m-5 9h0m23 12h0m8-12h0m-11-4h0m-23-11h0m28-4h0m-3-6h0m-4 16h0m-7-13h0m-29 84h0m18-71h0m29 2h0m2 10h0m3-23h0m-26 20h0m18 5h0m-33-20h0m33 9h0m0-5h0m3-6h0m-20 4h0m-15 34h0m28-5h0m-25 37h0"/><path id="g5_4" d="M16 -74h0m16 1h0m-40-11h0m5 11h0m6 3h0m14-1h0m-13 17h0m14-9h0m-4-10h0m-9 9h0m-9-6h0m7-7h0m10-6h0m28 8h0m-8 31h0m-24-24h0m8 0h0m21-8h0m-27-14h0m-5 21h0m14-8h0"/><path id="g5_5" d="M-30 -26h0m58 0h0m-26-41h0m23-20h0m-22-1h0m33 17h0m-46-11h0m45 8h0m-20-2h0m11 23h0m-12-15h0m4-16h0m2 6h0m5 4h0m7-10h0m-23 19h0m-16-19h0m24 7h0m17 2h0m-31 42h0m-10-57h0m34 22h0"/><path id="g5_6" d="M27 -71h0m-35-4h0m13 32h0m19 7h0m-31-53h0m21 52h0m-10-42h0m14 17h0m13-7h0m-27-10h0m3 10h0m24 1h0m7-7h0m-14-17h0m-10 12h0m-1-12h0m-7 9h0m-3 4h0m33 7h0m-40-12h0"/><path id="g5_7" d="M-4 -65h0m23-22h0m8 45h0m-5-43h0m-5 27h0m9-19h0m-22-18h0m64 15h0m-70 10h0m40-12h0m-44 1h0m17 19h0m24 25h0m-6-38h0m-23 12h0m6-16h0m1-11h0m4 9h0m16-4h0"/><path id="g5_8" d="M3 -79h0m-6 40h0m-11-18h0m57-23h0m-21 48h0m-9-61h0m-8 24h0m-14-17h0m-14 67h0m58-63h0m-37 12h0m28-2h0m-8-2h0m-23-9h0m21 7h0m1-15h0m-3 13h0m-49 73h0m78-70h0m-33-16h0m-7 3h0m1-1h0m26 38h0m-34-8h0"/><path id="g5_9" d="M-10 -56h0m35-20h0m-19 29h0m-18-27h0m31 8h0m11 11h0m3-29h0m-1 15h0m-11-5h0m0 21h0m9-31h0m-22 12h0m26 0h0m-3 29h0m-42 22h0m14-48h0m20-5h0m-53 16h0m56-17h0m5 46h0m-2-31h0m-23-35h0m14 58h0m-15-36h0m12 9h0m-39 10h0m35-15h0m-19-21h0m42 43h0m-34-14h0m11 7h0"/><path id="g5_10" d="M9 -71h0m-8-15h0m6 19h0m-6 2h0m42-15h0m-10 58h0m-2-44h0m11-10h0m-41 2h0m11-1h0m10-16h0m-3 8h0m-10-7h0m1 36h0m-5-25h0m9-3h0"/><path id="g5_11" d="M8 -68h0m-1 7h0m-8-21h0m34 14h0m-7-24h0m-3 50h0m-14-41h0m20-2h0m11 4h0m-47-2h0m37-2h0m-34 10h0m64 0h0m-48 19h0m21-20h0m-21-14h0m-13 32h0m23-20h0m-46 60h0m21-73h0m-7 14h0m35-13h0m-15 9h0m-1 15h0m14 1h0"/><path id="g5_12" d="M23 -90h0m-12 28h0m-3 28h0m27-45h0m-42 35h0m7-31h0m-2-17h0m5 27h0m15-27h0m4 10h0m-20 18h0m24-12h0m-6-7h0m-19 17h0m18-18h0m-21 3h0m12-8h0m14 7h0m-12-9h0m2 30h0m7-29h0m1 26h0m-18-18h0m12 46h0m4-41h0m12-9h0m-3 5h0m-10 14h0"/><path id="g5_13" d="M33 -82h0m-9 26h0m-10-26h0m-17 8h0m19 33h0m-8-32h0m-13-18h0m25 59h0m19-43h0m-17-12h0m-16-4h0m27 13h0m-11 6h0m-30-8h0m27 3h0m-7-9h0m-6-1h0m16 15h0m-22 16h0m25-30h0m5 32h0m4-16h0m-10 3h0m9 2h0"/><path id="g5_14" d="M19 -67h0m-19-1h0m-5 21h0m18-36h0m0 3h0m0-14h0m19 27h0m0-2h0m-23 8h0m-12-19h0m19 17h0m13-19h0m13 13h0m-46-22h0m45 9h0m-43-3h0m10-4h0m-6 8h0m-9-9h0m7 14h0m0 12h0m9 27h0m0-24h0"/><path id="g5_15" d="M0 -63h0m5 0h0m8-29h0m9 16h0m-18-11h0m24 2h0m-28 17h0m8-6h0m0 11h0m33-17h0m-35 11h0m-16 21h0m13 44h0m8-70h0m-10-9h0m14 0h0m7 4h0m-7 3h0m18 8h0m-39-25h0m18 0h0m-3 10h0m8-5h0m-40 44h0m14-38h0m13-7h0m-1 8h0"/><path id="g5_16" d="M41 -48h0m-21 0h0m-25-24h0m23-1h0m5 40h0m-31-47h0m50 4h0m-15 0h0m-41 13h0m33-30h0m-4 1h0m22 10h0m-4 6h0m-14 26h0m0-11h0m11-10h0m-34-15h0m34 56h0m-23-61h0m-12 6h0m25 36h0m-20-41h0m-1 24h0m-2-21h0m17 18h0m-8 7h0m5-8h0m-11-5h0m16 34h0m-21-41h0m3 7h0"/><path id="g5_17" d="M24 -68h0m-23-20h0m-10 27h0m42 18h0m-9-43h0m-7 8h0m-27-5h0m51 32h0m-47-27h0m16 7h0m3 39h0m-11-18h0m35-28h0m-42 19h0m39-11h0m-30-15h0m17 51h0m12-50h0m-32 19h0m-5 23h0m9-24h0m2 3h0m26 43h0m-10-52h0m-14-7h0"/><path id="g5_18" d="M32 -73h0m-14 32h0m-17-33h0m-11-5h0m41 0h0m-38-12h0m0 14h0m33 1h0m-16 24h0m20-38h0m-2 8h0m-41 18h0m20 2h0m1-8h0m-1-8h0m8-10h0m-10 21h0m3 14h0m21-29h0m-35 0h0m43 6h0m-27-17h0m6 6h0m-9 23h0m12 20h0"/><path id="g5_19" d="M-2 -67h0m31-16h0m-41 23h0m5-22h0m4 29h0m32-15h0m9-9h0m-11 10h0m-9-7h0m11 7h0m-4-6h0m-23 1h0m26 10h0m-26-2h0m28-14h0m-27-5h0m14-7h0m-18 12h0m16 19h0m6-15h0m21-6h0m-41 2h0m16 38h0m19-31h0"/><path id="g6_0" d="M-99 -24h0m9 4h0m-36-2h0m15 5h0m2-6h0m-29 25h0m59-14h0m-12 9h0m-10 6h0m-21-16h0m19-8h0m-13 21h0m11 2h0m-16-12h0m24-7h0m-45 4h0m35 7h0m3-10h0m-8-7h0"/><path id="g6_1" d="M-103 -10h0m1 9h0m-5-21h0m2 24h0m0-5h0m16-6h0m-16 6h0m-18-7h0m-4-7h0m19 18h0m-5-14h0m11 3h0m-2 1h0m-33-3h0"/><path id="g6_2" d="M-110 -5h0m-23-2h0m-3 7h0m13 3h0m-5-3h0m-9-1h0m13-20h0m15 5h0m-13-7h0m2 18h0m-4 7h0m12-2h0m-18-4h0"/><path id="g6_3" d="M-130 0h0m39-18h0m-40 20h0m19-13h0m8 8h0m-31-3h0m44-6h0m-32 18h0m15-21h0m-5-10h0m5 24h0m-4-19h0m15 6h0m-3 17h0m2-12h0m-21-5h0m-11 18h0m7 2h0"/><path id="g6_4" d="M-93 -24h0m-33 29h0m30-2h0m-15-18h0m18-4h0m-23 3h0m13 3h0m17-3h0m-50 6h0m30 4h0m13-3h0m-29 8h0m13-17h0m3 9h0m-28-6h0m27 7h0m-28-8h0m29 16h0m-15-9h0"/><path id="g6_5" d="M-103 -1h0m-12-12h0m14 1h0m8-1h0m-23 6h0m-6 11h0m2-21h0m-7 7h0m-13-1h0m19-5h0m27 9h0m-28 5h0m12 8h0m-9-22h0m9 10h0m-8 1h0"/><path id="g6_6" d="M-135 -4h0m21 5h0m26-12h0m-33-2h0m-19 3h0m49 0h0m-5-12h0m-30 17h0m10-6h0m18-1h0m-38-6h0m3 20h0m37-12h0m4 1h0m7 3h0"/><path id="g6_7" d="M-127 -14h0m30-3h0m-2-5h0m13 7h0m-44 14h0m-3 0h0m23-23h0m28 16h0m-33-15h0m-21 11h0m9 4h0m30-11h0m-40 16h0m27-4h0m13-10h0m-15 6h0m-23 14h0m17-19h0m1 8h0m-2-7h0"/><path id="g6_8" d="M-90 -2h0m-14 2h0m-25-12h0m0 6h0m23-18h0m23 12h0m-11 5h0m-11-2h0m3 2h0m-1-9h0m-19 19h0m37-8h0m-40-11h0m23 9h0m-27-13h0m37 15h0m-8-5h0m-17 11h0"/><path id="g6_9" d="M-120 -6h0m20-19h0m-34 14h0m19 1h0m5 15h0m6-9h0m1-16h0m-9 4h0m20-7h0m-51 18h0m-1-4h0m39-16h0m-18 26h0m26-20h0m-20 21h0m-1-14h0m-6-4h0m36 0h0"/><path id="g6_10" d="M-119 -1h0m10-24h0m20 21h0m-48-1h0m44 2h0m9-2h0m-30-2h0m2-12h0m-23 13h0m12 8h0m10-25h0m17 18h0m-10-9h0m-25 9h0m1 4h0m27-9h0m0 13h0m-23-27h0m6 14h0"/><path id="g6_11" d="M-95 -20h0m-5 19h0m-31 3h0m37-23h0m-46 15h0m38-18h0m-28 12h0m10-4h0m23 4h0m-12 1h0m18-13h0m-36 10h0m12 4h0"/><path id="g6_12" d="M-136 -11h0m22 1h0m9 8h0m-17 9h0m5-26h0m14 22h0m-47-14h0m47-11h0m-22 14h0m13 9h0m16-23h0m-43 23h0m54-21h0m-13 6h0m-12-2h0m16-2h0m-30 1h0m18 9h0"/><path id="g6_13" d="M-124 -9h0m35-5h0m-5-8h0m-10 9h0m-36 12h0m-1-4h0m20-11h0m-3 4h0m-2-12h0m22 13h0m-12 2h0m38 0h0m-26-2h0m2 0h0m-4-12h0m-22 14h0m19-5h0m-32 2h0m44-12h0"/><path id="g6_14" d="M-111 -18h0m-25 16h0m2-13h0m32 3h0m-34-1h0m46 11h0m-19-14h0m26 7h0m-1-2h0m-46-4h0m33-10h0m-24 13h0m12-3h0m15-11h0m4 3h0"/><path id="g6_15" d="M-102 -9h0m-17-1h0m25 6h0m-43-1h0m54-8h0m-31 3h0m-7 4h0m-7-8h0m26-5h0m-38 17h0m50-2h0m4-4h0m-39 9h0m0-9h0"/><path id="g6_16" d="M-121 -3h0m-8-16h0m16 23h0m-12-6h0m9-19h0m6 11h0m2 8h0m-11 1h0m-23-5h0m31-16h0m22 1h0m-9-3h0m-31 3h0m39 19h0m-3-9h0m-31-4h0m8 20h0m-21-18h0"/><path id="g6_17" d="M-136 2h0m13-22h0m35-2h0m-38 18h0m30 5h0m-20-17h0m-37 9h0m45-10h0m23 4h0m-10-5h0m14 6h0m-4 3h0m-52 4h0m45-22h0m18 14h0"/><path id="g6_18" d="M-93 -21h0m-46 2h0m0 11h0m10-13h0m-12 13h0m43 1h0m-1-11h0m3-7h0m-1 5h0m-15 3h0m-10 16h0m9-2h0m-35 1h0m25-9h0m-8 12h0m21-5h0m-30-9h0m54 0h0m-23 6h0m-14-14h0m9 22h0m15-1h0"/><path id="g6_19" d="M-128 -5h0m-6-9h0m33-3h0m-28 16h0m8-2h0m-5-14h0m28 11h0m-33 10h0m32-20h0m-15-6h0m-17 9h0m46 0h0m-42-1h0m4 19h0m17-20h0m12 3h0"/><path id="g7_0" d="M-155 5h0m9 12h0m16 1h0m-2 19h0m10-12h0m-15 5h0m-8-11h0m-8-13h0m10 28h0m14 0h0m13-22h0m-15 17h0"/><path id="g7_1" d="M-127 4h0m3 28h0m-10-3h0m-25-19h0m23 6h0m2-15h0m-20 19h0m-6-7h0m14 3h0m-10-3h0m8-7h0m12 6h0m-17-5h0m22 26h0m-23-28h0m12-10h0m-4 19h0m4-22h0m22 38h0m-17 9h0m18-34h0m-26-8h0m24 10h0m2 2h0"/><path id="g7_2" d="M-127 9h0m-12 29h0m1-21h0m-21-2h0m41-1h0m-23-1h0m-10-8h0m30 19h0m-19 4h0m0-9h0m-5 16h0m15-17h0m-13 11h0m-10-10h0m9-2h0"/><path id="g7_3" d="M-136 -3h0m266 26h0m-269 5h0m-17-15h0m32-9h0m-4 19h0m-19-19h0m9 32h0m14-15h0m-1 7h0m-22 10h0m-8-36h0m20 15h0m4 14h0m-3-7h0m-4 16h0m0-7h0m-5-34h0m1-5h0m-3 31h0m-1-18h0m6-1h0m-6 26h0m-6-8h0m0-12h0m20 18h0"/><path id="g7_4" d="M-154 27h0m34 4h0m-12-21h0m262 12h0m-252-10h0m-2 11h0m6-11h0m-3 5h0m-27 9h0m19-17h0m-24 8h0m8-13h0m-7-6h0m2 40h0m6-23h0m11-20h0m-19 39h0m9-20h0m16-1h0"/><path id="g7_5" d="M-143 17h0m-12-14h0m33 1h0m-35 5h0m13 37h0m-5-50h0m2 41h0m8-28h0m-2 29h0m10-22h0m-13 6h0m9-13h0m0-7h0m9 14h0m-15-16h0m11 25h0m-4 4h0m8-27h0"/><path id="g7_6" d="M-131 0h0m-13 29h0m0-8h0m-14-16h0m21 34h0m-6-18h0m-7-12h0m-2 4h0m28 3h0m1-6h0m-24 21h0"/><path id="g7_7" d="M-143 31h0m11-32h0m-7 8h0m-12 20h0m279-8h0m-245-7h0m-30-2h0m22-1h0m-32 6h0m17 18h0m18-1h0m-1-2h0m-18-2h0m-17-6h0m20 5h0m9-21h0m-29 3h0m21 0h0m-12 15h0m5-31h0m15 4h0"/><path id="g7_8" d="M-122 21h0m-30-15h0m33 13h0m-30 18h0m21 0h0m-17-1h0m2-29h0m-6 1h0m8 34h0m12-47h0m-8 21h0m4 6h0m-12 11h0m24-8h0m-28 6h0"/><path id="g7_9" d="M-128 6h0m-27 0h0m18 3h0m-15 15h0m15-19h0m-16 21h0m6-23h0m16 6h0m-16-7h0m26 4h0m-33 11h0m18-29h0m-2 10h0m3 7h0m-7 11h0m-4 10h0m279-2h0m-264-20h0m-24 7h0m21-15h0"/><path id="g7_10" d="M-132 18h0m-14 5h0m-12-9h0m31 2h0m-2-11h0m-29 1h0m39 13h0m-37 0h0m5-1h0m13-5h0m16 0h0m-5-11h0m-28 18h0m285 2h0m-286-17h0m6 3h0m-1 13h0m0 6h0m19 5h0m-22-20h0m12 11h0"/><path id="g7_11" d="M-156 14h0m-4-12h0m29-1h0m-22 12h0m22-12h0m13 25h0m0-12h0m-32-4h0m23 8h0m-24-11h0m17 2h0m-12 22h0m-10-19h0m11 19h0m-10-24h0m-10 0h0m31 32h0m-15-31h0m3-11h0m21 0h0m-16 42h0m6-6h0m-9-15h0"/><path id="g7_12" d="M-144 21h0m-14-10h0m15 4h0m20 3h0m-2 1h0m-2-7h0m7 8h0m-24-21h0m16 11h0m-9 21h0"/><path id="g7_13" d="M-150 -1h0m6 15h0m16 4h0m-27-15h0m22 15h0m8-6h0m-8 28h0m3-41h0m-22 33h0m11 7h0m8-16h0m4 1h0m-7 14h0m-7-7h0m18-2h0m-23 0h0m0-29h0m-6 32h0"/><path id="g7_14" d="M-160 5h0m23 21h0m-3-17h0m8-13h0m-9 4h0m-18 21h0m27-8h0m-6-18h0m-11 1h0m22 39h0m-16-18h0m15 14h0m-20 3h0m10-14h0m-8-3h0m29-10h0m-21 32h0m9-32h0m-25 19h0"/><path id="g7_15" d="M-157 23h0m34-15h0m-20 26h0m-14-32h0m28 3h0m-21 7h0m-7 4h0m24 9h0m-15-26h0m12 22h0m-20-3h0"/><path id="g7_16" d="M-137 40h0m14-32h0m-3-7h0m-19 27h0m6-9h0m-11 9h0m-9-27h0m42 17h0m-14-11h0m-27-3h0m20 26h0m19-18h0m-29-8h0m25 7h0m248 14h0m-263-6h0m10-10h0m-20 17h0m6-37h0m4 36h0m8-8h0"/><path id="g7_17" d="M-144 30h0m12-25h0m5-7h0m1 36h0m-12-21h0m18 15h0m-5-15h0m-7 20h0m-1-14h0m2 11h0m-5-2h0m16 0h0m-1-23h0m1 15h0m-19 6h0"/><path id="g7_18" d="M-128 20h0m-28-10h0m3 20h0m14-14h0m5-9h0m-23 15h0m8 1h0m6 7h0m9-7h0m-7-6h0m-8-4h0m1-1h0m-6 14h0m29-24h0m-3 2h0m-31 2h0m26 18h0m-11-15h0m12 28h0m0-7h0m8-11h0m-6-19h0m-31 6h0m39 13h0m-2-23h0m-26 2h0"/><path id="g7_19" d="M-131 16h0m-33-1h0m39-13h0m-21 16h0m16-2h0m-23 15h0m15-34h0m14 23h0m-5-19h0m-10 9h0m-16 17h0m16-11h0m-12-15h0m-1 2h0m9 11h0m-12 24h0m37-11h0m-19-6h0m-7-11h0m4-4h0"/><path id="g8_0" d="M-11 2h0m27 18h0m-21-30h0m-20 4h0m-17-24h0m53 43h0m17-67h0m-3 35h0m-21 1h0m28 11h0m-16 13h0m-70-1h0"/><path id="g8_1" d="M31 0h0m-25-17h0m-44 37h0m28-56h0m-43 34h0m60 16h0m-27 0h0m54-3h0m-41-29h0m6 36h0m-41-51h0m11 10h0"/><path id="g8_2" d="M4 11h0m-2-29h0m-34 36h0m48-11h0m-38-18h0m29 10h0m-25-12h0m-7-9h0m32 7h0"/><path id="g8_3" d="M39 5h0m-65-11h0m-12-8h0m17-24h0m-15 53h0m57-10h0m19 3h0m-44 9h0m20-7h0m14 5h0m-50-1h0m20 8h0"/><path id="g8_4" d="M10 15h0m-59-9h0m-15-20h0m-1 15h0m68 13h0m-6-38h0m30 10h0m-67 16h0m50 16h0"/><path id="g8_5" d="M-33 -1h0m44-15h0m-66 1h0m33-31h0m9 63h0m27-25h0"/><path id="g8_6" d="M-25 -6h0m19-14h0m2 28h0m8-70h0m-23 51h0m-31 21h0m10-40h0m67 17h0m-55-10h0m23 8h0m-51-3h0m40 13h0"/><path id="g8_7" d="M-28 -20h0m-7 39h0"/><path id="g8_8" d="M-57 -2h0m51-17h0m-31-3h0m38 7h0m12 32h0m9-31h0m-25 31h0m-10-5h0m-54-11h0m14 0h0m84-13h0m0 24h0"/><path id="g8_9" d="M-4 -13h0m55 7h0m-68 23h0m-4-42h0m73 16h0m-90 26h0m24-43h0m9 4h0m49 25h0m-54-6h0"/><path id="g8_10" d="M-13 -18h0m-19 33h0m76-12h0m-27-50h0m4 49h0m-55 1h0m16 12h0m67-5h0m-72-24h0m16-4h0m47 17h0"/><path id="g8_11" d="M13 16h0m-73-20h0m19-27h0m78 27h0m-55-12h0m-12 19h0m31 6h0m20 0h0m-65-41h0"/><path id="g8_12" d="M27 -18h0m-29 6h0m-15 25h0m-27-20h0m33-43h0m-40 55h0m51-19h0m48 27h0m-51-9h0m32-14h0m-74-1h0"/><path id="g8_13" d="M12 14h0m3-20h0m-40 9h0m41-6h0m8 6h0m-46-4h0m29-19h0m-32 42h0m34-11h0m-80-29h0m57 8h0"/><path id="g8_14" d="M49 7h0m-91-5h0m18-22h0m-6 37h0m61-24h0m-55-9h0m25 28h0m-1-1h0m-1-24h0m-28-7h0m32 1h0"/><path id="g8_15" d="M-22 -19h0m8-19h0m-31 49h0m23 2h0m63-4h0"/><path id="g8_16" d="M-4 17h0m2-16h0m2-66h0m-54 59h0m24 25h0"/><path id="g8_17" d="M-14 5h0m-18-29h0m3 3h0m-3 41h0m32-34h0m-39 25h0m31-27h0m-8 27h0"/><path id="g8_18" d="M-33 -36h0m51 22h0m-36-10h0m47 20h0m-22 18h0m-13-29h0m-3 0h0m43 5h0m-25 33h0m11-7h0m-27-36h0m21 4h0"/><path id="g8_19" d="M32 8h0m-61 3h0m-6 5h0m39-13h0m-21 6h0m30 1h0m-51-14h0"/><path id="g9_0" d="M-96 53h0m-8 11h0m9-11h0m-21 5h0m8 9h0m8-13h0m-17 5h0m17-8h0m6 11h0"/><path id="g9_1" d="M-111 66h0m10 2h0m-1 0h0m0-4h0m7-5h0m-12-9h0m-6 3h0m2 4h0"/><path id="g9_2" d="M-100 46h0m-13 16h0m22 0h0m-29 0h0m13 6h0m2-7h0m7-10h0"/><path id="g9_3" d="M-104 61h0m7 2h0m-5-14h0m-3 4h0m9 15h0m-13 3h0m5-11h0"/><path id="g9_4" d="M-109 57h0m19 4h0m-19-2h0m5-11h0m-2 20h0m7-10h0m0 5h0m3 7h0m-2-3h0m-6-5h0m5-3h0"/><path id="g9_5" d="M-115 64h0m21 0h0m7-11h0m-31 5h0m20 12h0"/><path id="g9_6" d="M-116 62h0m14-1h0m-2-1h0m8-9h0m-12 3h0m-8 9h0m16-8h0m-16 4h0m28-4h0m-27 1h0"/><path id="g9_7" d="M-105 50h0m0 12h0m-14-3h0m19 8h0m-8-7h0m-2 0h0"/><path id="g9_8" d="M-105 65h0m-3-11h0m12 13h0m-20 2h0m4-9h0m13 10h0m-4-8h0m2 7h0m-6-1h0"/><path id="g9_9" d="M-96 65h0m5-2h0m-5 5h0m-1-13h0m-16 3h0m19 7h0m-10-12h0m10 12h0m-1-11h0m-1 13h0m-1 3h0"/><path id="g9_10" d="M-93 60h0m2-5h0m-27 2h0m26-1h0m-22 1h0m26-2h0m-25 12h0m7-16h0m1 17h0m1-6h0m-1-3h0m7 9h0m-1-10h0m4 12h0"/><path id="g9_11" d="M-90 51h0m-25 9h0m1 3h0m20-6h0m-21 4h0m28-1h0m-19 6h0m11-7h0m-4-6h0m-2-2h0m1 6h0"/><path id="g9_12" d="M-97 65h0m8-1h0m-18-10h0m18-2h0m2 10h0"/><path id="g9_13" d="M-112 70h0m1-16h0m-10 8h0m23-10h0m-6 4h0m11-4h0m-4 8h0"/><path id="g9_14" d="M-107 64h0m3-10h0m2 15h0m-14-2h0m13-5h0m-6 4h0m8-15h0m-5 8h0m1 6h0m-11-7h0"/><path id="g9_15" d="M-108 67h0m-5-14h0m1 15h0m6-11h0m10 10h0m-6-10h0m-1-3h0m-1 2h0m-8 11h0m21-9h0m-26 8h0m28-14h0"/><path id="g9_16" d="M-96 58h0m-21 5h0m9-3h0m16 0h0m-25 5h0"/><path id="g9_17" d="M-110 53h0m9-2h0m-9 10h0m-2-4h0m3 13h0m2 1h0m-10-8h0m6-7h0m15 5h0m-20 2h0"/><path id="g9_18" d="M-101 63h0m8 4h0m-3 3h0m-6-3h0m1-7h0m5 9h0"/><path id="g9_19" d="M-104 63h0m15-1h0m-9 0h0m-10 2h0m3-5h0m9-6h0m-9 17h0"/><path id="g10_0" d="M-17 -40h0m-23 0h0m15 7h0"/><path id="g10_1" d="M-23 -46h0m-9 24h0"/><path id="g10_2" d="M-31 -36h0m-18-10h0"/><path id="g10_3" d="M-14 -29h0m-23 10h0m15-1h0m-5-21h0m9 19h0m-4 6h0m5-9h0m-32-4h0m39-1h0"/><path id="g10_4" d="M-21 -39h0"/><path id="g10_5" d="M72 -80h0m-101 55h0"/><path id="g10_6" d="M-26 -41h0m3-3h0"/><path id="g10_7" d="M-32 -45h0m-14 22h0m28 9h0m7-12h0"/><path id="g10_8" d="M72 -84h0m-103 48h0m-15 9h0"/><path id="g10_9" d="M76 -82h0m-122 59h0"/><path id="g10_10" d="M-28 -13h0"/><path id="g10_11" d="M-52 -36h0m23 11h0"/><path id="g10_12" d="M-47 -21h0m27-16h0m-31 14h0"/><path id="g10_13" d="M-13 -12h0m-27-20h0m-16-14h0"/><path id="g10_14" d="M-44 -32h0m120-48h0m-85 58h0m-8 10h0m8-11h0m-33-21h0"/><path id="g10_15" d="M-49 -45h0"/><path id="g10_16" d="M-26 -36h0m-14 5h0"/><path id="g10_17" d="M-42 -16h0m6-14h0m8-2h0m19 7h0m-34-23h0"/><path id="g10_18" d="M-17 -30h0m3 7h0"/><path id="g10_19" d="M-56 -41h0m1 6h0m-1 0h0m10 6h0m17-19h0m-8 22h0"/><path id="g11_0" d="M118 29h0m-8-2h0"/><path id="g11_1" d="M134 32h0m-19 1h0"/><path id="g11_2" d="M123 31h0m-5-3h0m-4-1h0"/><path id="g11_3" d="M109 29h0m2-4h0"/><path id="g11_4" d="M116 33h0m12-2h0m-5 1h0m0-1h0"/><path id="g11_5" d="M116 33h0m6-7h0m0 6h0"/><path id="g11_6" d=""/><path id="g11_7" d=""/><path id="g11_8" d="M115 34h0m10-8h0m3 9h0m-4-9h0"/><path id="g11_9" d="M118 28h0m-5 0h0m4 0h0"/><path id="g11_10" d="M129 34h0m-11-4h0m-7 2h0"/><path id="g11_11" d="M111 27h0m19 4h0"/><path id="g11_12" d="M114 30h0m12 2h0m0-7h0"/><path id="g11_13" d="M118 37h0"/><path id="g11_14" d="M126 28h0m-11 1h0m8-2h0m4 8h0"/><path id="g11_15" d="M124 27h0"/><path id="g11_16" d="M119 30h0m11-2h0m-6 1h0"/><path id="g11_17" d="M111 27h0m9 4h0m-5 5h0m18-3h0m-15-1h0"/><path id="g11_18" d="M115 29h0m10 6h0"/><path id="g11_19" d="M135 29h0"/><path id="g12_0" d=""/><path id="g12_1" d=""/><path id="g12_2" d=""/><path id="g12_3" d=""/><path id="g12_4" d=""/><path id="g12_5" d=""/><path id="g12_6" d=""/><path id="g12_7" d="M193 48h0"/><path id="g12_8" d="M191 47h0"/><path id="g12_9" d="M190 50h0m-2-1h0"/><path id="g12_10" d=""/><path id="g12_11" d=""/><path id="g12_12" d=""/><path id="g12_13" d="M190 49h0"/><path id="g12_14" d=""/><path id="g12_15" d=""/><path id="g12_16" d=""/><path id="g12_17" d="M195 46h0"/><path id="g12_18" d="M197 49h0"/><path id="g12_19" d="M193 45h0"/><path id="g13_0" d=""/><path id="g13_1" d=""/><path id="g13_2" d=""/><path id="g13_3" d=""/><path id="g13_4" d=""/><path id="g13_5" d="M-45 -185h0"/><path id="g13_6" d=""/><path id="g13_7" d="M-44 -187h0"/><path id="g13_8" d="M-41 -184h0"/><path id="g13_9" d="M-42 -186h0m-1-1h0"/><path id="g13_10" d=""/><path id="g13_11" d=""/><path id="g13_12" d="M-44 -186h0"/><path id="g13_13" d=""/><path id="g13_14" d="M-45 -185h0"/><path id="g13_15" d="M-47 -188h0"/><path id="g13_16" d=""/><path id="g13_17" d=""/><path id="g13_18" d=""/><path id="g13_19" d=""/><path id="g14_0" d="M-80 -1h0m-2 16h0m-5-12h0m4 4h0m-1-12h0m-10 21h0m-1-18h0"/><path id="g14_1" d="M-77 6h0m1 2h0"/><path id="g14_2" d="M-90 6h0m-4 5h0m1-2h0"/><path id="g14_3" d="M-98 5h0m19-8h0m-6 19h0m-9-15h0"/><path id="g14_4" d="M-93 5h0m1-3h0m1 11h0m8-20h0m0 19h0"/><path id="g14_5" d="M-94 9h0m1-2h0m17 8h0m-9-8h0m-12-4h0m13 12h0"/><path id="g14_6" d="M-95 6h0m0-4h0m17 5h0"/><path id="g14_7" d="M-79 -5h0m-14 2h0m17 7h0m-5 5h0m-9 5h0m0-3h0m13-4h0"/><path id="g14_8" d="M-85 13h0m3-6h0m-8-1h0m12-5h0m-10 8h0m-8-6h0m10-6h0m11 5h0"/><path id="g14_9" d="M-77 -6h0m-2 14h0m-9-7h0m-6-4h0m1 16h0m6-10h0"/><path id="g14_10" d="M-85 15h0m-10-9h0m13 7h0m-3-14h0m4-3h0"/><path id="g14_11" d="M-86 6h0m5 2h0"/><path id="g14_12" d="M-76 8h0m-10-3h0m2-4h0m-8 4h0m7 9h0"/><path id="g14_13" d="M-78 15h0m-16-6h0m8-16h0"/><path id="g14_14" d="M-94 10h0"/><path id="g14_15" d="M-86 -6h0m-7 5h0m12-6h0m-6 23h0m2-11h0"/><path id="g14_16" d="M-79 -1h0m-17 10h0m16-17h0m-15 20h0m14 1h0m-4-12h0m-5 14h0"/><path id="g14_17" d="M-80 -4h0"/><path id="g14_18" d="M-85 5h0m9 3h0m-11 1h0m-8 7h0m7-9h0m1-14h0"/><path id="g14_19" d="M-77 13h0m-19-3h0m1-8h0m13 4h0"/><path id="g15_0" d="M-106 32h0"/><path id="g15_1" d="M-96 30h0"/><path id="g15_2" d="M-94 29h0"/><path id="g15_3" d=""/><path id="g15_4" d="M-93 26h0m-14 18h0"/><path id="g15_5" d="M-94 45h0"/><path id="g15_6" d="M-100 26h0"/><path id="g15_7" d=""/><path id="g15_8" d="M-111 30h0m5 10h0m12-16h0m-6 11h0"/><path id="g15_9" d=""/><path id="g15_10" d="M-94 43h0"/><path id="g15_11" d="M-108 39h0m16 1h0"/><path id="g15_12" d=""/><path id="g15_13" d="M-97 45h0"/><path id="g15_14" d=""/><path id="g15_15" d="M-108 41h0m9-8h0"/><path id="g15_16" d="M-97 30h0m-5 3h0"/><path id="g15_17" d=""/><path id="g15_18" d="M-112 35h0m20 5h0"/><path id="g15_19" d=""/></defs><defs><g id="all"><use href="#g0_0"/><use href="#g0_1"/><use href="#g0_2"/><use href="#g0_3"/><use href="#g0_4"/><use href="#g0_5"/><use href="#g0_6"/><use href="#g0_7"/><use href="#g0_8"/><use href="#g0_9"/><use href="#g0_10"/><use href="#g0_11"/><use href="#g0_12"/><use href="#g0_13"/><use href="#g0_14"/><use href="#g0_15"/><use href="#g0_16"/><use href="#g0_17"/><use href="#g0_18"/><use href="#g0_19"/><use href="#g1_0"/><use href="#g1_1"/><use href="#g1_2"/><use href="#g1_3"/><use href="#g1_4"/><use href="#g1_5"/><use href="#g1_6"/><use href="#g1_7"/><use href="#g1_8"/><use href="#g1_9"/><use href="#g1_10"/><use href="#g1_11"/><use href="#g1_12"/><use href="#g1_13"/><use href="#g1_14"/><use href="#g1_15"/><use href="#g1_16"/><use href="#g1_17"/><use href="#g1_18"/><use href="#g1_19"/><use href="#g2_0"/><use href="#g2_1"/><use href="#g2_2"/><use href="#g2_3"/><use href="#g2_4"/><use href="#g2_5"/><use href="#g2_6"/><use href="#g2_7"/><use href="#g2_8"/><use href="#g2_9"/><use href="#g2_10"/><use href="#g2_11"/><use href="#g2_12"/><use href="#g2_13"/><use href="#g2_14"/><use href="#g2_15"/><use href="#g2_16"/><use href="#g2_17"/><use href="#g2_18"/><use href="#g2_19"/><use href="#g3_0"/><use href="#g3_1"/><use href="#g3_2"/><use href="#g3_3"/><use href="#g3_4"/><use href="#g3_5"/><use href="#g3_6"/><use href="#g3_7"/><use href="#g3_8"/><use href="#g3_9"/><use href="#g3_10"/><use href="#g3_11"/><use href="#g3_12"/><use href="#g3_13"/><use href="#g3_14"/><use href="#g3_15"/><use href="#g3_16"/><use href="#g3_17"/><use href="#g3_18"/><use href="#g3_19"/><use href="#g4_0"/><use href="#g4_1"/><use href="#g4_2"/><use href="#g4_3"/><use href="#g4_4"/><use href="#g4_5"/><use href="#g4_6"/><use href="#g4_7"/><use href="#g4_8"/><use href="#g4_9"/><use href="#g4_10"/><use href="#g4_11"/><use href="#g4_12"/><use href="#g4_13"/><use href="#g4_14"/><use href="#g4_15"/><use href="#g4_16"/><use href="#g4_17"/><use href="#g4_18"/><use href="#g4_19"/><use href="#g5_0"/><use href="#g5_1"/><use href="#g5_2"/><use href="#g5_3"/><use href="#g5_4"/><use href="#g5_5"/><use href="#g5_6"/><use href="#g5_7"/><use href="#g5_8"/><use href="#g5_9"/><use href="#g5_10"/><use href="#g5_11"/><use href="#g5_12"/><use href="#g5_13"/><use href="#g5_14"/><use href="#g5_15"/><use href="#g5_16"/><use href="#g5_17"/><use href="#g5_18"/><use href="#g5_19"/><use href="#g6_0"/><use href="#g6_1"/><use href="#g6_2"/><use href="#g6_3"/><use href="#g6_4"/><use href="#g6_5"/><use href="#g6_6"/><use href="#g6_7"/><use href="#g6_8"/><use href="#g6_9"/><use href="#g6_10"/><use href="#g6_11"/><use href="#g6_12"/><use href="#g6_13"/><use href="#g6_14"/><use href="#g6_15"/><use href="#g6_16"/><use href="#g6_17"/><use href="#g6_18"/><use href="#g6_19"/><use href="#g7_0"/><use href="#g7_1"/><use href="#g7_2"/><use href="#g7_3"/><use href="#g7_4"/><use href="#g7_5"/><use href="#g7_6"/><use href="#g7_7"/><use href="#g7_8"/><use href="#g7_9"/><use href="#g7_10"/><use href="#g7_11"/><use href="#g7_12"/><use href="#g7_13"/><use href="#g7_14"/><use href="#g7_15"/><use href="#g7_16"/><use href="#g7_17"/><use href="#g7_18"/><use href="#g7_19"/><use href="#g8_0"/><use href="#g8_1"/><use href="#g8_2"/><use href="#g8_3"/><use href="#g8_4"/><use href="#g8_5"/><use href="#g8_6"/><use href="#g8_7"/><use href="#g8_8"/><use href="#g8_9"/><use href="#g8_10"/><use href="#g8_11"/><use href="#g8_12"/><use href="#g8_13"/><use href="#g8_14"/><use href="#g8_15"/><use href="#g8_16"/><use href="#g8_17"/><use href="#g8_18"/><use href="#g8_19"/><use href="#g9_0"/><use href="#g9_1"/><use href="#g9_2"/><use href="#g9_3"/><use href="#g9_4"/><use href="#g9_5"/><use href="#g9_6"/><use href="#g9_7"/><use href="#g9_8"/><use href="#g9_9"/><use href="#g9_10"/><use href="#g9_11"/><use href="#g9_12"/><use href="#g9_13"/><use href="#g9_14"/><use href="#g9_15"/><use href="#g9_16"/><use href="#g9_17"/><use href="#g9_18"/><use href="#g9_19"/><use href="#g10_0"/><use href="#g10_1"/><use href="#g10_2"/><use href="#g10_3"/><use href="#g10_4"/><use href="#g10_5"/><use href="#g10_6"/><use href="#g10_7"/><use href="#g10_8"/><use href="#g10_9"/><use href="#g10_10"/><use href="#g10_11"/><use href="#g10_12"/><use href="#g10_13"/><use href="#g10_14"/><use href="#g10_15"/><use href="#g10_16"/><use href="#g10_17"/><use href="#g10_18"/><use href="#g10_19"/><use href="#g11_0"/><use href="#g11_1"/><use href="#g11_2"/><use href="#g11_3"/><use href="#g11_4"/><use href="#g11_5"/><use href="#g11_6"/><use href="#g11_7"/><use href="#g11_8"/><use href="#g11_9"/><use href="#g11_10"/><use href="#g11_11"/><use href="#g11_12"/><use href="#g11_13"/><use href="#g11_14"/><use href="#g11_15"/><use href="#g11_16"/><use href="#g11_17"/><use href="#g11_18"/><use href="#g11_19"/><use href="#g12_0"/><use href="#g12_1"/><use href="#g12_2"/><use href="#g12_3"/><use href="#g12_4"/><use href="#g12_5"/><use href="#g12_6"/><use href="#g12_7"/><use href="#g12_8"/><use href="#g12_9"/><use href="#g12_10"/><use href="#g12_11"/><use href="#g12_12"/><use href="#g12_13"/><use href="#g12_14"/><use href="#g12_15"/><use href="#g12_16"/><use href="#g12_17"/><use href="#g12_18"/><use href="#g12_19"/><use href="#g13_0"/><use href="#g13_1"/><use href="#g13_2"/><use href="#g13_3"/><use href="#g13_4"/><use href="#g13_5"/><use href="#g13_6"/><use href="#g13_7"/><use href="#g13_8"/><use href="#g13_9"/><use href="#g13_10"/><use href="#g13_11"/><use href="#g13_12"/><use href="#g13_13"/><use href="#g13_14"/><use href="#g13_15"/><use href="#g13_16"/><use href="#g13_17"/><use href="#g13_18"/><use href="#g13_19"/><use href="#g14_0"/><use href="#g14_1"/><use href="#g14_2"/><use href="#g14_3"/><use href="#g14_4"/><use href="#g14_5"/><use href="#g14_6"/><use href="#g14_7"/><use href="#g14_8"/><use href="#g14_9"/><use href="#g14_10"/><use href="#g14_11"/><use href="#g14_12"/><use href="#g14_13"/><use href="#g14_14"/><use href="#g14_15"/><use href="#g14_16"/><use href="#g14_17"/><use href="#g14_18"/><use href="#g14_19"/><use href="#g15_0"/><use href="#g15_1"/><use href="#g15_2"/><use href="#g15_3"/><use href="#g15_4"/><use href="#g15_5"/><use href="#g15_6"/><use href="#g15_7"/><use href="#g15_8"/><use href="#g15_9"/><use href="#g15_10"/><use href="#g15_11"/><use href="#g15_12"/><use href="#g15_13"/><use href="#g15_14"/><use href="#g15_15"/><use href="#g15_16"/><use href="#g15_17"/><use href="#g15_18"/><use href="#g15_19"/></g></defs><rect x="0" y="0" width="520" height="1.2" fill="#000"/><rect x="0" y="0" width="1.2" height="749" fill="#000"/><rect x="518.4" y="0" width="1.6" height="749" fill="#0a0a0a"/><rect x="0" y="747.2" width="520" height="1.8" fill="#000"/><g font-family="Liberation Sans, sans-serif" fill="#111" stroke="#111" stroke-width="0.12"><g stroke="#111" stroke-width="0.5"><text x="10.60" y="23.60" font-size="16.80" font-weight="bold" text-anchor="start"  >A</text><text x="173.90" y="23.60" font-size="16.80" font-weight="bold" text-anchor="start"  >B</text><text x="10.40" y="311.20" font-size="16.80" font-weight="bold" text-anchor="start"  >C</text><text x="11.60" y="613.50" font-size="16.80" font-weight="bold" text-anchor="start"  >D</text></g><text x="10.40" y="38.50" font-size="10.60" font-weight="normal" text-anchor="start"  >Arm</text><text x="35.30" y="38.50" font-size="10.50" font-weight="normal" text-anchor="start"  >Treatment</text><rect x="10.4" y="39.4" width="19.3" height="0.8" fill="#333"/><rect x="35.3" y="39.4" width="46.4" height="0.8" fill="#333"/><text x="19.70" y="52.40" font-size="10.50" font-weight="normal" text-anchor="middle"  >1</text><text x="35.30" y="52.40" font-size="10.50" font-weight="normal" text-anchor="start"  >Vaccinated with</text><text x="35.30" y="64.10" font-size="10.50" font-weight="normal" text-anchor="start"  >heat-killed</text><text x="35.30" y="75.80" font-size="10.50" font-weight="normal" text-anchor="start"  >leukemia cells</text><text x="19.70" y="97.50" font-size="10.50" font-weight="normal" text-anchor="middle"  >2</text><text x="35.30" y="97.50" font-size="10.50" font-weight="normal" text-anchor="start"  >Leukemic mice at</text><text x="35.30" y="109.70" font-size="10.50" font-weight="normal" text-anchor="start"  >peak disease burden</text><text x="19.70" y="130.30" font-size="10.50" font-weight="normal" text-anchor="middle"  >3</text><text x="35.30" y="130.30" font-size="10.50" font-weight="normal" text-anchor="start"  >Leukemic mice 3</text><text x="35.30" y="142.60" font-size="10.50" font-weight="normal" text-anchor="start"  >days after completion</text><text x="35.30" y="154.70" font-size="10.50" font-weight="normal" text-anchor="start"  >of nilotinib</text><text x="19.70" y="177.00" font-size="10.50" font-weight="normal" text-anchor="middle"  >4</text><text x="35.30" y="177.00" font-size="10.50" font-weight="normal" text-anchor="start"  >Leukemic mice 3</text><text x="35.30" y="189.20" font-size="10.50" font-weight="normal" text-anchor="start"  >days after completion</text><text x="35.3" y="201.40" font-size="10.5" textLength="121.6" lengthAdjust="spacingAndGlyphs">of nilotinib + &#945;PD-L1 mAb</text><text x="19.70" y="228.30" font-size="10.50" font-weight="normal" text-anchor="middle"  >5</text><text x="35.30" y="228.30" font-size="10.50" font-weight="normal" text-anchor="start"  >Leukemic mice 4</text><text x="35.30" y="240.50" font-size="10.50" font-weight="normal" text-anchor="start"  >weeks after completion</text><text x="35.3" y="252.50" font-size="10.5" textLength="121.6" lengthAdjust="spacingAndGlyphs">of nilotinib + &#945;PD-L1 mAb</text></g><g stroke="#000" stroke-width="1.35" fill="none"><path d="M205.1 43V243.2H455"/><path d="M200.6 113.2H205"/><path d="M200.6 182.6H205"/><path d="M254.5 243V247.6"/><path d="M318.3 243V247.6"/><path d="M381.9 243V247.6"/><path d="M445.2 243V247.6"/></g><g font-family="Liberation Sans, sans-serif" fill="#141414" stroke="#141414" stroke-width="0.1" font-size="11.6"><text transform="translate(197.30 117.60) scale(0.900 1)" font-size="12.40" text-anchor="end">5</text><text transform="translate(197.30 187.00) scale(0.900 1)" font-size="12.40" text-anchor="end">0</text><text transform="translate(318.30 261.60) scale(0.900 1)" font-size="12.40" text-anchor="middle">0</text><text transform="translate(381.90 261.60) scale(0.900 1)" font-size="12.40" text-anchor="middle">5</text><text transform="translate(445.20 261.60) scale(0.900 1)" font-size="12.40" text-anchor="middle">10</text><text x="252.90" y="261.60" font-size="12.40" text-anchor="middle" textLength="14.40" lengthAdjust="spacingAndGlyphs" >&#8211;5</text><text x="328.35" y="281.20" font-size="13.80" text-anchor="middle" textLength="39.20" lengthAdjust="spacingAndGlyphs" >UMAP 1</text><g transform="translate(185.1 144.45) rotate(-90)"><text x="0.00" y="0.00" font-size="13.80" text-anchor="middle" textLength="40.50" lengthAdjust="spacingAndGlyphs" >UMAP 2</text></g></g><g transform="translate(318.40 182.50) scale(0.6375 0.6925)" fill="none" stroke-width="3.22" stroke-linecap="round"><use href="#g0_0" stroke="#F06462"/><use href="#g0_1" stroke="#F06462"/><use href="#g0_2" stroke="#F06462"/><use href="#g0_3" stroke="#F06462"/><use href="#g0_4" stroke="#F06462"/><use href="#g0_5" stroke="#F06462"/><use href="#g0_6" stroke="#F06462"/><use href="#g0_7" stroke="#F06462"/><use href="#g0_8" stroke="#F06462"/><use href="#g0_9" stroke="#F06462"/><use href="#g0_10" stroke="#F06462"/><use href="#g0_11" stroke="#F06462"/><use href="#g0_12" stroke="#F06462"/><use href="#g0_13" stroke="#F06462"/><use href="#g0_14" stroke="#F06462"/><use href="#g0_15" stroke="#F06462"/><use href="#g0_16" stroke="#F06462"/><use href="#g0_17" stroke="#F06462"/><use href="#g0_18" stroke="#F06462"/><use href="#g0_19" stroke="#F06462"/><use href="#g1_0" stroke="#E67A14"/><use href="#g1_1" stroke="#E67A14"/><use href="#g1_2" stroke="#E67A14"/><use href="#g1_3" stroke="#E67A14"/><use href="#g1_4" stroke="#E67A14"/><use href="#g1_5" stroke="#E67A14"/><use href="#g1_6" stroke="#E67A14"/><use href="#g1_7" stroke="#E67A14"/><use href="#g1_8" stroke="#E67A14"/><use href="#g1_9" stroke="#E67A14"/><use href="#g1_10" stroke="#E67A14"/><use href="#g1_11" stroke="#E67A14"/><use href="#g1_12" stroke="#E67A14"/><use href="#g1_13" stroke="#E67A14"/><use href="#g1_14" stroke="#E67A14"/><use href="#g1_15" stroke="#E67A14"/><use href="#g1_16" stroke="#E67A14"/><use href="#g1_17" stroke="#E67A14"/><use href="#g1_18" stroke="#E67A14"/><use href="#g1_19" stroke="#E67A14"/><use href="#g2_0" stroke="#BF8B1C"/><use href="#g2_1" stroke="#BF8B1C"/><use href="#g2_2" stroke="#BF8B1C"/><use href="#g2_3" stroke="#BF8B1C"/><use href="#g2_4" stroke="#BF8B1C"/><use href="#g2_5" stroke="#BF8B1C"/><use href="#g2_6" stroke="#BF8B1C"/><use href="#g2_7" stroke="#BF8B1C"/><use href="#g2_8" stroke="#BF8B1C"/><use href="#g2_9" stroke="#BF8B1C"/><use href="#g2_10" stroke="#BF8B1C"/><use href="#g2_11" stroke="#BF8B1C"/><use href="#g2_12" stroke="#BF8B1C"/><use href="#g2_13" stroke="#BF8B1C"/><use href="#g2_14" stroke="#BF8B1C"/><use href="#g2_15" stroke="#BF8B1C"/><use href="#g2_16" stroke="#BF8B1C"/><use href="#g2_17" stroke="#BF8B1C"/><use href="#g2_18" stroke="#BF8B1C"/><use href="#g2_19" stroke="#BF8B1C"/><use href="#g3_0" stroke="#8C9E2A"/><use href="#g3_1" stroke="#8C9E2A"/><use href="#g3_2" stroke="#8C9E2A"/><use href="#g3_3" stroke="#8C9E2A"/><use href="#g3_4" stroke="#8C9E2A"/><use href="#g3_5" stroke="#8C9E2A"/><use href="#g3_6" stroke="#8C9E2A"/><use href="#g3_7" stroke="#8C9E2A"/><use href="#g3_8" stroke="#8C9E2A"/><use href="#g3_9" stroke="#8C9E2A"/><use href="#g3_10" stroke="#8C9E2A"/><use href="#g3_11" stroke="#8C9E2A"/><use href="#g3_12" stroke="#8C9E2A"/><use href="#g3_13" stroke="#8C9E2A"/><use href="#g3_14" stroke="#8C9E2A"/><use href="#g3_15" stroke="#8C9E2A"/><use href="#g3_16" stroke="#8C9E2A"/><use href="#g3_17" stroke="#8C9E2A"/><use href="#g3_18" stroke="#8C9E2A"/><use href="#g3_19" stroke="#8C9E2A"/><use href="#g4_0" stroke="#3DAA3C"/><use href="#g4_1" stroke="#3DAA3C"/><use href="#g4_2" stroke="#3DAA3C"/><use href="#g4_3" stroke="#3DAA3C"/><use href="#g4_4" stroke="#3DAA3C"/><use href="#g4_5" stroke="#3DAA3C"/><use href="#g4_6" stroke="#3DAA3C"/><use href="#g4_7" stroke="#3DAA3C"/><use href="#g4_8" stroke="#3DAA3C"/><use href="#g4_9" stroke="#3DAA3C"/><use href="#g4_10" stroke="#3DAA3C"/><use href="#g4_11" stroke="#3DAA3C"/><use href="#g4_12" stroke="#3DAA3C"/><use href="#g4_13" stroke="#3DAA3C"/><use href="#g4_14" stroke="#3DAA3C"/><use href="#g4_15" stroke="#3DAA3C"/><use href="#g4_16" stroke="#3DAA3C"/><use href="#g4_17" stroke="#3DAA3C"/><use href="#g4_18" stroke="#3DAA3C"/><use href="#g4_19" stroke="#3DAA3C"/><use href="#g5_0" stroke="#1FA84C"/><use href="#g5_1" stroke="#1FA84C"/><use href="#g5_2" stroke="#1FA84C"/><use href="#g5_3" stroke="#1FA84C"/><use href="#g5_4" stroke="#1FA84C"/><use href="#g5_5" stroke="#1FA84C"/><use href="#g5_6" stroke="#1FA84C"/><use href="#g5_7" stroke="#1FA84C"/><use href="#g5_8" stroke="#1FA84C"/><use href="#g5_9" stroke="#1FA84C"/><use href="#g5_10" stroke="#1FA84C"/><use href="#g5_11" stroke="#1FA84C"/><use href="#g5_12" stroke="#1FA84C"/><use href="#g5_13" stroke="#1FA84C"/><use href="#g5_14" stroke="#1FA84C"/><use href="#g5_15" stroke="#1FA84C"/><use href="#g5_16" stroke="#1FA84C"/><use href="#g5_17" stroke="#1FA84C"/><use href="#g5_18" stroke="#1FA84C"/><use href="#g5_19" stroke="#1FA84C"/><use href="#g6_0" stroke="#21A883"/><use href="#g6_1" stroke="#21A883"/><use href="#g6_2" stroke="#21A883"/><use href="#g6_3" stroke="#21A883"/><use href="#g6_4" stroke="#21A883"/><use href="#g6_5" stroke="#21A883"/><use href="#g6_6" stroke="#21A883"/><use href="#g6_7" stroke="#21A883"/><use href="#g6_8" stroke="#21A883"/><use href="#g6_9" stroke="#21A883"/><use href="#g6_10" stroke="#21A883"/><use href="#g6_11" stroke="#21A883"/><use href="#g6_12" stroke="#21A883"/><use href="#g6_13" stroke="#21A883"/><use href="#g6_14" stroke="#21A883"/><use href="#g6_15" stroke="#21A883"/><use href="#g6_16" stroke="#21A883"/><use href="#g6_17" stroke="#21A883"/><use href="#g6_18" stroke="#21A883"/><use href="#g6_19" stroke="#21A883"/><use href="#g7_0" stroke="#1BB4B5"/><use href="#g7_1" stroke="#1BB4B5"/><use href="#g7_2" stroke="#1BB4B5"/><use href="#g7_3" stroke="#1BB4B5"/><use href="#g7_4" stroke="#1BB4B5"/><use href="#g7_5" stroke="#1BB4B5"/><use href="#g7_6" stroke="#1BB4B5"/><use href="#g7_7" stroke="#1BB4B5"/><use href="#g7_8" stroke="#1BB4B5"/><use href="#g7_9" stroke="#1BB4B5"/><use href="#g7_10" stroke="#1BB4B5"/><use href="#g7_11" stroke="#1BB4B5"/><use href="#g7_12" stroke="#1BB4B5"/><use href="#g7_13" stroke="#1BB4B5"/><use href="#g7_14" stroke="#1BB4B5"/><use href="#g7_15" stroke="#1BB4B5"/><use href="#g7_16" stroke="#1BB4B5"/><use href="#g7_17" stroke="#1BB4B5"/><use href="#g7_18" stroke="#1BB4B5"/><use href="#g7_19" stroke="#1BB4B5"/><use href="#g8_0" stroke="#12A9EA"/><use href="#g8_1" stroke="#12A9EA"/><use href="#g8_2" stroke="#12A9EA"/><use href="#g8_3" stroke="#12A9EA"/><use href="#g8_4" stroke="#12A9EA"/><use href="#g8_5" stroke="#12A9EA"/><use href="#g8_6" stroke="#12A9EA"/><use href="#g8_7" stroke="#12A9EA"/><use href="#g8_8" stroke="#12A9EA"/><use href="#g8_9" stroke="#12A9EA"/><use href="#g8_10" stroke="#12A9EA"/><use href="#g8_11" stroke="#12A9EA"/><use href="#g8_12" stroke="#12A9EA"/><use href="#g8_13" stroke="#12A9EA"/><use href="#g8_14" stroke="#12A9EA"/><use href="#g8_15" stroke="#12A9EA"/><use href="#g8_16" stroke="#12A9EA"/><use href="#g8_17" stroke="#12A9EA"/><use href="#g8_18" stroke="#12A9EA"/><use href="#g8_19" stroke="#12A9EA"/><use href="#g9_0" stroke="#2B82D6"/><use href="#g9_1" stroke="#2B82D6"/><use href="#g9_2" stroke="#2B82D6"/><use href="#g9_3" stroke="#2B82D6"/><use href="#g9_4" stroke="#2B82D6"/><use href="#g9_5" stroke="#2B82D6"/><use href="#g9_6" stroke="#2B82D6"/><use href="#g9_7" stroke="#2B82D6"/><use href="#g9_8" stroke="#2B82D6"/><use href="#g9_9" stroke="#2B82D6"/><use href="#g9_10" stroke="#2B82D6"/><use href="#g9_11" stroke="#2B82D6"/><use href="#g9_12" stroke="#2B82D6"/><use href="#g9_13" stroke="#2B82D6"/><use href="#g9_14" stroke="#2B82D6"/><use href="#g9_15" stroke="#2B82D6"/><use href="#g9_16" stroke="#2B82D6"/><use href="#g9_17" stroke="#2B82D6"/><use href="#g9_18" stroke="#2B82D6"/><use href="#g9_19" stroke="#2B82D6"/><use href="#g10_0" stroke="#7A7AC8"/><use href="#g10_1" stroke="#7A7AC8"/><use href="#g10_2" stroke="#7A7AC8"/><use href="#g10_3" stroke="#7A7AC8"/><use href="#g10_4" stroke="#7A7AC8"/><use href="#g10_5" stroke="#7A7AC8"/><use href="#g10_6" stroke="#7A7AC8"/><use href="#g10_7" stroke="#7A7AC8"/><use href="#g10_8" stroke="#7A7AC8"/><use href="#g10_9" stroke="#7A7AC8"/><use href="#g10_10" stroke="#7A7AC8"/><use href="#g10_11" stroke="#7A7AC8"/><use href="#g10_12" stroke="#7A7AC8"/><use href="#g10_13" stroke="#7A7AC8"/><use href="#g10_14" stroke="#7A7AC8"/><use href="#g10_15" stroke="#7A7AC8"/><use href="#g10_16" stroke="#7A7AC8"/><use href="#g10_17" stroke="#7A7AC8"/><use href="#g10_18" stroke="#7A7AC8"/><use href="#g10_19" stroke="#7A7AC8"/><use href="#g11_0" stroke="#A062B8"/><use href="#g11_1" stroke="#A062B8"/><use href="#g11_2" stroke="#A062B8"/><use href="#g11_3" stroke="#A062B8"/><use href="#g11_4" stroke="#A062B8"/><use href="#g11_5" stroke="#A062B8"/><use href="#g11_6" stroke="#A062B8"/><use href="#g11_7" stroke="#A062B8"/><use href="#g11_8" stroke="#A062B8"/><use href="#g11_9" stroke="#A062B8"/><use href="#g11_10" stroke="#A062B8"/><use href="#g11_11" stroke="#A062B8"/><use href="#g11_12" stroke="#A062B8"/><use href="#g11_13" stroke="#A062B8"/><use href="#g11_14" stroke="#A062B8"/><use href="#g11_15" stroke="#A062B8"/><use href="#g11_16" stroke="#A062B8"/><use href="#g11_17" stroke="#A062B8"/><use href="#g11_18" stroke="#A062B8"/><use href="#g11_19" stroke="#A062B8"/><use href="#g12_0" stroke="#CF52A0"/><use href="#g12_1" stroke="#CF52A0"/><use href="#g12_2" stroke="#CF52A0"/><use href="#g12_3" stroke="#CF52A0"/><use href="#g12_4" stroke="#CF52A0"/><use href="#g12_5" stroke="#CF52A0"/><use href="#g12_6" stroke="#CF52A0"/><use href="#g12_7" stroke="#CF52A0"/><use href="#g12_8" stroke="#CF52A0"/><use href="#g12_9" stroke="#CF52A0"/><use href="#g12_10" stroke="#CF52A0"/><use href="#g12_11" stroke="#CF52A0"/><use href="#g12_12" stroke="#CF52A0"/><use href="#g12_13" stroke="#CF52A0"/><use href="#g12_14" stroke="#CF52A0"/><use href="#g12_15" stroke="#CF52A0"/><use href="#g12_16" stroke="#CF52A0"/><use href="#g12_17" stroke="#CF52A0"/><use href="#g12_18" stroke="#CF52A0"/><use href="#g12_19" stroke="#CF52A0"/><use href="#g13_0" stroke="#EE4A98"/><use href="#g13_1" stroke="#EE4A98"/><use href="#g13_2" stroke="#EE4A98"/><use href="#g13_3" stroke="#EE4A98"/><use href="#g13_4" stroke="#EE4A98"/><use href="#g13_5" stroke="#EE4A98"/><use href="#g13_6" stroke="#EE4A98"/><use href="#g13_7" stroke="#EE4A98"/><use href="#g13_8" stroke="#EE4A98"/><use href="#g13_9" stroke="#EE4A98"/><use href="#g13_10" stroke="#EE4A98"/><use href="#g13_11" stroke="#EE4A98"/><use href="#g13_12" stroke="#EE4A98"/><use href="#g13_13" stroke="#EE4A98"/><use href="#g13_14" stroke="#EE4A98"/><use href="#g13_15" stroke="#EE4A98"/><use href="#g13_16" stroke="#EE4A98"/><use href="#g13_17" stroke="#EE4A98"/><use href="#g13_18" stroke="#EE4A98"/><use href="#g13_19" stroke="#EE4A98"/><use href="#g14_0" stroke="#21A883"/><use href="#g14_1" stroke="#21A883"/><use href="#g14_2" stroke="#21A883"/><use href="#g14_3" stroke="#21A883"/><use href="#g14_4" stroke="#21A883"/><use href="#g14_5" stroke="#21A883"/><use href="#g14_6" stroke="#21A883"/><use href="#g14_7" stroke="#21A883"/><use href="#g14_8" stroke="#21A883"/><use href="#g14_9" stroke="#21A883"/><use href="#g14_10" stroke="#21A883"/><use href="#g14_11" stroke="#21A883"/><use href="#g14_12" stroke="#21A883"/><use href="#g14_13" stroke="#21A883"/><use href="#g14_14" stroke="#21A883"/><use href="#g14_15" stroke="#21A883"/><use href="#g14_16" stroke="#21A883"/><use href="#g14_17" stroke="#21A883"/><use href="#g14_18" stroke="#21A883"/><use href="#g14_19" stroke="#21A883"/><use href="#g15_0" stroke="#2B82D6"/><use href="#g15_1" stroke="#2B82D6"/><use href="#g15_2" stroke="#2B82D6"/><use href="#g15_3" stroke="#2B82D6"/><use href="#g15_4" stroke="#2B82D6"/><use href="#g15_5" stroke="#2B82D6"/><use href="#g15_6" stroke="#2B82D6"/><use href="#g15_7" stroke="#2B82D6"/><use href="#g15_8" stroke="#2B82D6"/><use href="#g15_9" stroke="#2B82D6"/><use href="#g15_10" stroke="#2B82D6"/><use href="#g15_11" stroke="#2B82D6"/><use href="#g15_12" stroke="#2B82D6"/><use href="#g15_13" stroke="#2B82D6"/><use href="#g15_14" stroke="#2B82D6"/><use href="#g15_15" stroke="#2B82D6"/><use href="#g15_16" stroke="#2B82D6"/><use href="#g15_17" stroke="#2B82D6"/><use href="#g15_18" stroke="#2B82D6"/><use href="#g15_19" stroke="#2B82D6"/></g><g font-family="Liberation Sans, sans-serif" font-weight="bold" font-size="11.6" fill="#000" stroke="#000" stroke-width="0.3" text-anchor="middle"><text x="0" y="0" transform="translate(290.0 58.6) scale(0.86 1)">13</text><text x="0" y="0" transform="translate(283.5 160.2) scale(0.86 1)">0</text><text x="0" y="0" transform="translate(325.8 136.5) scale(0.86 1)">5</text><text x="0" y="0" transform="translate(310.6 170.2) scale(0.86 1)">10</text><text x="0" y="0" transform="translate(319.6 170.2) scale(0.86 1)">3</text><text x="0" y="0" transform="translate(309.4 184.6) scale(0.86 1)">8</text><text x="0" y="0" transform="translate(360.5 178.7) scale(0.86 1)">1</text><text x="0" y="0" transform="translate(249.0 181.7) scale(0.86 1)">6</text><text x="0" y="0" transform="translate(230.0 198.6) scale(0.86 1)">7</text><text x="0" y="0" transform="translate(252.0 228.8) scale(0.86 1)">9</text><text x="0" y="0" transform="translate(310.8 218.5) scale(0.86 1)">2</text><text x="0" y="0" transform="translate(347.4 219.8) scale(0.86 1)">4</text><text x="0" y="0" transform="translate(399.0 207.7) scale(0.86 1)">11</text><text x="0" y="0" transform="translate(442.0 220.2) scale(0.86 1)">12</text></g><g font-family="Liberation Sans, sans-serif" fill="#111" stroke="#111" stroke-width="0.1" font-size="9.6"><text x="432.30" y="41.40" font-size="9.60" font-weight="normal" text-anchor="start"  >Cluster</text><circle cx="437.1" cy="51.80" r="3.5" fill="#F06462"/><text x="444" y="55.20" font-size="9.8" textLength="30.90" lengthAdjust="spacingAndGlyphs">0 T<tspan font-size="7.6" dy="2.7">EM3</tspan></text><circle cx="437.1" cy="62.84" r="3.5" fill="#E67A14"/><text x="444" y="66.24" font-size="9.8" textLength="30.10" lengthAdjust="spacingAndGlyphs">1 T<tspan font-size="7.6" dy="2.7">EM1</tspan></text><circle cx="437.1" cy="73.88" r="3.5" fill="#BF8B1C"/><text x="444" y="77.28" font-size="9.8" textLength="43.00" lengthAdjust="spacingAndGlyphs">2 TdTregs</text><circle cx="437.1" cy="84.92" r="3.5" fill="#8C9E2A"/><text x="444" y="88.32" font-size="9.8" textLength="34.40" lengthAdjust="spacingAndGlyphs">3 T<tspan font-size="7.6" dy="2.7">EM2a</tspan></text><circle cx="437.1" cy="95.96" r="3.5" fill="#3DAA3C"/><text x="444" y="99.36" font-size="9.8" textLength="36.60" lengthAdjust="spacingAndGlyphs">4 aTregs</text><circle cx="437.1" cy="107.00" r="3.5" fill="#1FA84C"/><text x="444" y="110.40" font-size="9.8" textLength="37.80" lengthAdjust="spacingAndGlyphs">5 T<tspan font-size="7.6" dy="2.7">n</tspan><tspan dy="-2.7">/T</tspan><tspan font-size="7.6" dy="2.7">cm</tspan></text><circle cx="437.1" cy="118.04" r="3.5" fill="#21A883"/><text x="444" y="121.44" font-size="9.8" textLength="41.30" lengthAdjust="spacingAndGlyphs">6 T<tspan font-size="7.6" dy="2.7">hctx&#8211;ex</tspan></text><circle cx="437.1" cy="129.08" r="3.5" fill="#1BB4B5"/><text x="444" y="132.48" font-size="9.8" textLength="29.20" lengthAdjust="spacingAndGlyphs">7 T<tspan font-size="7.6" dy="2.7">hctx</tspan></text><circle cx="437.1" cy="140.12" r="3.5" fill="#12A9EA"/><text x="444" y="143.52" font-size="9.8" textLength="35.30" lengthAdjust="spacingAndGlyphs">8 T<tspan font-size="7.6" dy="2.7">EM2b</tspan></text><circle cx="437.1" cy="151.16" r="3.5" fill="#2B82D6"/><text x="444" y="154.56" font-size="9.8" textLength="27.20" lengthAdjust="spacingAndGlyphs">9 NKT</text><circle cx="437.1" cy="162.20" r="3.5" fill="#7A7AC8"/><text x="444" y="165.60" font-size="9.8" textLength="39.60" lengthAdjust="spacingAndGlyphs">10 T<tspan font-size="7.6" dy="2.7">EM2c</tspan></text><circle cx="437.1" cy="173.24" r="3.5" fill="#A062B8"/><text x="444" y="176.64" font-size="9.8" textLength="66.60" lengthAdjust="spacingAndGlyphs">11 Proliferating</text><circle cx="437.1" cy="184.28" r="3.5" fill="#CF52A0"/><text x="444" y="187.68" font-size="9.8" textLength="43.50" lengthAdjust="spacingAndGlyphs">12 B&#8211;cells</text><circle cx="437.1" cy="195.32" r="3.5" fill="#EE4A98"/><text x="444" y="198.72" font-size="9.8" textLength="48.20" lengthAdjust="spacingAndGlyphs">13 Myeloid</text></g><g transform="translate(124.60 362.30) scale(0.20500 0.21500)" fill="none" stroke-linecap="round"><use href="#all" stroke="#efeff1" stroke-width="9.27"/><g stroke-width="8.54"><use href="#g2_0" stroke="#f7c721"/><use href="#g4_0" stroke="#f7c721"/><use href="#g6_1" stroke="#f7c721"/><use href="#g7_0" stroke="#f7c721"/><use href="#g9_1" stroke="#f7c721"/><use href="#g10_1" stroke="#f7c721"/><use href="#g11_1" stroke="#f7c721"/><use href="#g14_1" stroke="#f7c721"/><use href="#g15_0" stroke="#f7c721"/><use href="#g0_1" stroke="#f7c621"/><use href="#g8_0" stroke="#f7c222"/><use href="#g3_0" stroke="#f7bf22"/><use href="#g1_0" stroke="#f7bb23"/><use href="#g0_0" stroke="#f7b924"/><use href="#g2_1" stroke="#f7b924"/><use href="#g4_1" stroke="#f7b924"/><use href="#g6_0" stroke="#f7b924"/><use href="#g7_1" stroke="#f7b924"/><use href="#g9_0" stroke="#f7b924"/><use href="#g10_0" stroke="#f7b924"/><use href="#g11_0" stroke="#f7b924"/><use href="#g14_0" stroke="#f7b924"/><use href="#g15_1" stroke="#f7b924"/><use href="#g3_1" stroke="#f7b225"/><use href="#g8_1" stroke="#f7af25"/><use href="#g0_2" stroke="#f7ab26"/><use href="#g1_1" stroke="#f8a827"/><use href="#g5_0" stroke="#f8a727"/><use href="#g3_2" stroke="#f8a428"/><use href="#g13_0" stroke="#f89c29"/><use href="#g13_1" stroke="#f89c29"/><use href="#g13_2" stroke="#f89c29"/><use href="#g13_3" stroke="#f89c29"/><use href="#g13_4" stroke="#f89c29"/><use href="#g13_5" stroke="#f89c29"/><use href="#g13_6" stroke="#f89c29"/><use href="#g13_7" stroke="#f89c29"/><use href="#g13_8" stroke="#f89c29"/><use href="#g13_9" stroke="#f89c29"/><use href="#g13_10" stroke="#f89c29"/><use href="#g13_11" stroke="#f89c29"/><use href="#g13_12" stroke="#f89c29"/><use href="#g13_13" stroke="#f89c29"/><use href="#g13_14" stroke="#f89c29"/><use href="#g13_15" stroke="#f89c29"/><use href="#g13_16" stroke="#f89c29"/><use href="#g13_17" stroke="#f89c29"/><use href="#g13_18" stroke="#f89c29"/><use href="#g13_19" stroke="#f89c29"/><use href="#g5_2" stroke="#f7952c"/><use href="#g12_0" stroke="#f58f2f"/><use href="#g12_1" stroke="#f58f2f"/><use href="#g12_2" stroke="#f58f2f"/><use href="#g12_3" stroke="#f58f2f"/><use href="#g12_4" stroke="#f58f2f"/><use href="#g12_5" stroke="#f58f2f"/><use href="#g12_6" stroke="#f58f2f"/><use href="#g12_7" stroke="#f58f2f"/><use href="#g12_8" stroke="#f58f2f"/><use href="#g12_9" stroke="#f58f2f"/><use href="#g12_10" stroke="#f58f2f"/><use href="#g12_11" stroke="#f58f2f"/><use href="#g12_12" stroke="#f58f2f"/><use href="#g12_13" stroke="#f58f2f"/><use href="#g12_14" stroke="#f58f2f"/><use href="#g12_15" stroke="#f58f2f"/><use href="#g12_16" stroke="#f58f2f"/><use href="#g12_17" stroke="#f58f2f"/><use href="#g12_18" stroke="#f58f2f"/><use href="#g12_19" stroke="#f58f2f"/><use href="#g5_3" stroke="#f48932"/><use href="#g5_1" stroke="#ef7a3a"/></g></g><g transform="translate(210.30 362.30) scale(0.20500 0.21500)" fill="none" stroke-linecap="round"><use href="#all" stroke="#efeff1" stroke-width="9.27"/><g stroke-width="8.54"><use href="#g6_0" stroke="#f7c222"/><use href="#g7_0" stroke="#f7c222"/><use href="#g9_1" stroke="#f7c222"/><use href="#g11_1" stroke="#f7c222"/><use href="#g14_0" stroke="#f7c222"/><use href="#g15_1" stroke="#f7c222"/><use href="#g2_0" stroke="#f7b924"/><use href="#g4_0" stroke="#f7b924"/><use href="#g8_1" stroke="#f7b824"/><use href="#g10_1" stroke="#f7b824"/><use href="#g1_0" stroke="#f7b524"/><use href="#g6_1" stroke="#f7af25"/><use href="#g7_1" stroke="#f7af25"/><use href="#g9_0" stroke="#f7af25"/><use href="#g11_0" stroke="#f7af25"/><use href="#g14_1" stroke="#f7af25"/><use href="#g15_0" stroke="#f7af25"/><use href="#g0_2" stroke="#f7ae26"/><use href="#g3_2" stroke="#f7ae26"/><use href="#g5_0" stroke="#f8a927"/><use href="#g8_0" stroke="#f8a328"/><use href="#g10_0" stroke="#f8a328"/><use href="#g1_1" stroke="#f8a328"/><use href="#g0_1" stroke="#f89c29"/><use href="#g3_0" stroke="#f89c29"/><use href="#g5_1" stroke="#f8992a"/><use href="#g1_2" stroke="#f7962b"/><use href="#g12_0" stroke="#f7962b"/><use href="#g12_1" stroke="#f7962b"/><use href="#g12_2" stroke="#f7962b"/><use href="#g12_3" stroke="#f7962b"/><use href="#g12_4" stroke="#f7962b"/><use href="#g12_5" stroke="#f7962b"/><use href="#g12_6" stroke="#f7962b"/><use href="#g12_7" stroke="#f7962b"/><use href="#g12_8" stroke="#f7962b"/><use href="#g12_9" stroke="#f7962b"/><use href="#g12_10" stroke="#f7962b"/><use href="#g12_11" stroke="#f7962b"/><use href="#g12_12" stroke="#f7962b"/><use href="#g12_13" stroke="#f7962b"/><use href="#g12_14" stroke="#f7962b"/><use href="#g12_15" stroke="#f7962b"/><use href="#g12_16" stroke="#f7962b"/><use href="#g12_17" stroke="#f7962b"/><use href="#g12_18" stroke="#f7962b"/><use href="#g12_19" stroke="#f7962b"/><use href="#g13_0" stroke="#f7962b"/><use href="#g13_1" stroke="#f7962b"/><use href="#g13_2" stroke="#f7962b"/><use href="#g13_3" stroke="#f7962b"/><use href="#g13_4" stroke="#f7962b"/><use href="#g13_5" stroke="#f7962b"/><use href="#g13_6" stroke="#f7962b"/><use href="#g13_7" stroke="#f7962b"/><use href="#g13_8" stroke="#f7962b"/><use href="#g13_9" stroke="#f7962b"/><use href="#g13_10" stroke="#f7962b"/><use href="#g13_11" stroke="#f7962b"/><use href="#g13_12" stroke="#f7962b"/><use href="#g13_13" stroke="#f7962b"/><use href="#g13_14" stroke="#f7962b"/><use href="#g13_15" stroke="#f7962b"/><use href="#g13_16" stroke="#f7962b"/><use href="#g13_17" stroke="#f7962b"/><use href="#g13_18" stroke="#f7962b"/><use href="#g13_19" stroke="#f7962b"/><use href="#g8_2" stroke="#f6902e"/><use href="#g10_2" stroke="#f6902e"/><use href="#g0_3" stroke="#f6902f"/><use href="#g3_3" stroke="#f6902f"/><use href="#g5_3" stroke="#f58f2f"/><use href="#g1_3" stroke="#f38634"/><use href="#g5_2" stroke="#f38634"/><use href="#g0_0" stroke="#f18037"/><use href="#g3_1" stroke="#f18037"/><use href="#g5_4" stroke="#ef773c"/></g></g><g transform="translate(296.00 362.30) scale(0.20500 0.21500)" fill="none" stroke-linecap="round"><use href="#all" stroke="#efeff1" stroke-width="9.27"/><g stroke-width="8.54"><use href="#g2_3" stroke="#f7c821"/><use href="#g4_3" stroke="#f7c621"/><use href="#g9_0" stroke="#f7bf22"/><use href="#g15_1" stroke="#f7bf22"/><use href="#g2_4" stroke="#f7b924"/><use href="#g12_0" stroke="#f7b924"/><use href="#g12_1" stroke="#f7b924"/><use href="#g12_2" stroke="#f7b924"/><use href="#g12_3" stroke="#f7b924"/><use href="#g12_4" stroke="#f7b924"/><use href="#g12_5" stroke="#f7b924"/><use href="#g12_6" stroke="#f7b924"/><use href="#g12_7" stroke="#f7b924"/><use href="#g12_8" stroke="#f7b924"/><use href="#g12_9" stroke="#f7b924"/><use href="#g12_10" stroke="#f7b924"/><use href="#g12_11" stroke="#f7b924"/><use href="#g12_12" stroke="#f7b924"/><use href="#g12_13" stroke="#f7b924"/><use href="#g12_14" stroke="#f7b924"/><use href="#g12_15" stroke="#f7b924"/><use href="#g12_16" stroke="#f7b924"/><use href="#g12_17" stroke="#f7b924"/><use href="#g12_18" stroke="#f7b924"/><use href="#g12_19" stroke="#f7b924"/><use href="#g13_0" stroke="#f7b924"/><use href="#g13_1" stroke="#f7b924"/><use href="#g13_2" stroke="#f7b924"/><use href="#g13_3" stroke="#f7b924"/><use href="#g13_4" stroke="#f7b924"/><use href="#g13_5" stroke="#f7b924"/><use href="#g13_6" stroke="#f7b924"/><use href="#g13_7" stroke="#f7b924"/><use href="#g13_8" stroke="#f7b924"/><use href="#g13_9" stroke="#f7b924"/><use href="#g13_10" stroke="#f7b924"/><use href="#g13_11" stroke="#f7b924"/><use href="#g13_12" stroke="#f7b924"/><use href="#g13_13" stroke="#f7b924"/><use href="#g13_14" stroke="#f7b924"/><use href="#g13_15" stroke="#f7b924"/><use href="#g13_16" stroke="#f7b924"/><use href="#g13_17" stroke="#f7b924"/><use href="#g13_18" stroke="#f7b924"/><use href="#g13_19" stroke="#f7b924"/><use href="#g4_0" stroke="#f7b624"/><use href="#g1_0" stroke="#f7b225"/><use href="#g9_1" stroke="#f7b225"/><use href="#g15_0" stroke="#f7b225"/><use href="#g2_2" stroke="#f7af25"/><use href="#g4_4" stroke="#f7aa26"/><use href="#g2_5" stroke="#f8a627"/><use href="#g9_2" stroke="#f8a428"/><use href="#g15_2" stroke="#f8a428"/><use href="#g4_2" stroke="#f89f29"/><use href="#g2_0" stroke="#f89c29"/><use href="#g5_0" stroke="#f7962b"/><use href="#g4_1" stroke="#f6902e"/><use href="#g2_1" stroke="#f58e2f"/></g></g><g transform="translate(381.60 362.30) scale(0.20500 0.21500)" fill="none" stroke-linecap="round"><use href="#all" stroke="#efeff1" stroke-width="9.27"/><g stroke-width="8.54"><use href="#g4_3" stroke="#f7bd23"/><use href="#g2_3" stroke="#f7bd23"/><use href="#g5_0" stroke="#f7b225"/><use href="#g12_0" stroke="#f7b225"/><use href="#g12_1" stroke="#f7b225"/><use href="#g12_2" stroke="#f7b225"/><use href="#g12_3" stroke="#f7b225"/><use href="#g12_4" stroke="#f7b225"/><use href="#g12_5" stroke="#f7b225"/><use href="#g12_6" stroke="#f7b225"/><use href="#g12_7" stroke="#f7b225"/><use href="#g12_8" stroke="#f7b225"/><use href="#g12_9" stroke="#f7b225"/><use href="#g12_10" stroke="#f7b225"/><use href="#g12_11" stroke="#f7b225"/><use href="#g12_12" stroke="#f7b225"/><use href="#g12_13" stroke="#f7b225"/><use href="#g12_14" stroke="#f7b225"/><use href="#g12_15" stroke="#f7b225"/><use href="#g12_16" stroke="#f7b225"/><use href="#g12_17" stroke="#f7b225"/><use href="#g12_18" stroke="#f7b225"/><use href="#g12_19" stroke="#f7b225"/><use href="#g2_7" stroke="#f7af25"/><use href="#g4_4" stroke="#f7ae26"/><use href="#g2_1" stroke="#f8a727"/><use href="#g4_5" stroke="#f8a428"/><use href="#g2_4" stroke="#f8a028"/><use href="#g4_2" stroke="#f89b29"/><use href="#g2_5" stroke="#f8992a"/><use href="#g13_0" stroke="#f7962b"/><use href="#g13_1" stroke="#f7962b"/><use href="#g13_2" stroke="#f7962b"/><use href="#g13_3" stroke="#f7962b"/><use href="#g13_4" stroke="#f7962b"/><use href="#g13_5" stroke="#f7962b"/><use href="#g13_6" stroke="#f7962b"/><use href="#g13_7" stroke="#f7962b"/><use href="#g13_8" stroke="#f7962b"/><use href="#g13_9" stroke="#f7962b"/><use href="#g13_10" stroke="#f7962b"/><use href="#g13_11" stroke="#f7962b"/><use href="#g13_12" stroke="#f7962b"/><use href="#g13_13" stroke="#f7962b"/><use href="#g13_14" stroke="#f7962b"/><use href="#g13_15" stroke="#f7962b"/><use href="#g13_16" stroke="#f7962b"/><use href="#g13_17" stroke="#f7962b"/><use href="#g13_18" stroke="#f7962b"/><use href="#g13_19" stroke="#f7962b"/><use href="#g2_2" stroke="#f6932d"/><use href="#g4_0" stroke="#f6922d"/><use href="#g2_0" stroke="#f48b31"/><use href="#g4_1" stroke="#f38534"/><use href="#g2_6" stroke="#f17f38"/></g></g><g transform="translate(124.60 445.00) scale(0.20500 0.21500)" fill="none" stroke-linecap="round"><use href="#all" stroke="#efeff1" stroke-width="9.27"/><g stroke-width="8.54"><use href="#g3_0" stroke="#f7c621"/><use href="#g5_1" stroke="#f7c621"/><use href="#g8_2" stroke="#f7c621"/><use href="#g0_2" stroke="#f7c521"/><use href="#g7_1" stroke="#f7bf22"/><use href="#g9_0" stroke="#f7bb23"/><use href="#g15_1" stroke="#f7bb23"/><use href="#g1_0" stroke="#f7b924"/><use href="#g2_0" stroke="#f7b924"/><use href="#g4_0" stroke="#f7b924"/><use href="#g10_0" stroke="#f7b924"/><use href="#g11_0" stroke="#f7b924"/><use href="#g6_0" stroke="#f7b824"/><use href="#g14_0" stroke="#f7b824"/><use href="#g3_1" stroke="#f7b225"/><use href="#g5_0" stroke="#f7b225"/><use href="#g8_1" stroke="#f7b225"/><use href="#g13_0" stroke="#f7b225"/><use href="#g13_1" stroke="#f7b225"/><use href="#g13_2" stroke="#f7b225"/><use href="#g13_3" stroke="#f7b225"/><use href="#g13_4" stroke="#f7b225"/><use href="#g13_5" stroke="#f7b225"/><use href="#g13_6" stroke="#f7b225"/><use href="#g13_7" stroke="#f7b225"/><use href="#g13_8" stroke="#f7b225"/><use href="#g13_9" stroke="#f7b225"/><use href="#g13_10" stroke="#f7b225"/><use href="#g13_11" stroke="#f7b225"/><use href="#g13_12" stroke="#f7b225"/><use href="#g13_13" stroke="#f7b225"/><use href="#g13_14" stroke="#f7b225"/><use href="#g13_15" stroke="#f7b225"/><use href="#g13_16" stroke="#f7b225"/><use href="#g13_17" stroke="#f7b225"/><use href="#g13_18" stroke="#f7b225"/><use href="#g13_19" stroke="#f7b225"/><use href="#g7_0" stroke="#f7aa26"/><use href="#g9_1" stroke="#f8a827"/><use href="#g15_0" stroke="#f8a827"/><use href="#g0_0" stroke="#f8a827"/><use href="#g12_0" stroke="#f8a328"/><use href="#g12_1" stroke="#f8a328"/><use href="#g12_2" stroke="#f8a328"/><use href="#g12_3" stroke="#f8a328"/><use href="#g12_4" stroke="#f8a328"/><use href="#g12_5" stroke="#f8a328"/><use href="#g12_6" stroke="#f8a328"/><use href="#g12_7" stroke="#f8a328"/><use href="#g12_8" stroke="#f8a328"/><use href="#g12_9" stroke="#f8a328"/><use href="#g12_10" stroke="#f8a328"/><use href="#g12_11" stroke="#f8a328"/><use href="#g12_12" stroke="#f8a328"/><use href="#g12_13" stroke="#f8a328"/><use href="#g12_14" stroke="#f8a328"/><use href="#g12_15" stroke="#f8a328"/><use href="#g12_16" stroke="#f8a328"/><use href="#g12_17" stroke="#f8a328"/><use href="#g12_18" stroke="#f8a328"/><use href="#g12_19" stroke="#f8a328"/><use href="#g3_2" stroke="#f89d29"/><use href="#g5_2" stroke="#f89d29"/><use href="#g8_0" stroke="#f89d29"/><use href="#g6_1" stroke="#f89c29"/><use href="#g14_1" stroke="#f89c29"/><use href="#g7_2" stroke="#f7962b"/><use href="#g0_1" stroke="#f6922d"/><use href="#g6_2" stroke="#f28435"/><use href="#g14_2" stroke="#f28435"/><use href="#g0_3" stroke="#ef783c"/></g></g><g transform="translate(210.30 445.00) scale(0.20500 0.21500)" fill="none" stroke-linecap="round"><use href="#all" stroke="#efeff1" stroke-width="9.27"/><g stroke-width="8.54"><use href="#g6_1" stroke="#f7c322"/><use href="#g7_0" stroke="#f7c322"/><use href="#g14_1" stroke="#f7c322"/><use href="#g9_0" stroke="#f7bc23"/><use href="#g15_2" stroke="#f7bc23"/><use href="#g0_0" stroke="#f7bb23"/><use href="#g3_1" stroke="#f7bb23"/><use href="#g5_1" stroke="#f7bb23"/><use href="#g8_1" stroke="#f7bb23"/><use href="#g2_0" stroke="#f7b924"/><use href="#g4_0" stroke="#f7b924"/><use href="#g10_0" stroke="#f7b924"/><use href="#g11_0" stroke="#f7b924"/><use href="#g1_0" stroke="#f7b225"/><use href="#g6_2" stroke="#f7b125"/><use href="#g7_2" stroke="#f7b125"/><use href="#g14_2" stroke="#f7b125"/><use href="#g12_0" stroke="#f7aa26"/><use href="#g12_1" stroke="#f7aa26"/><use href="#g12_2" stroke="#f7aa26"/><use href="#g12_3" stroke="#f7aa26"/><use href="#g12_4" stroke="#f7aa26"/><use href="#g12_5" stroke="#f7aa26"/><use href="#g12_6" stroke="#f7aa26"/><use href="#g12_7" stroke="#f7aa26"/><use href="#g12_8" stroke="#f7aa26"/><use href="#g12_9" stroke="#f7aa26"/><use href="#g12_10" stroke="#f7aa26"/><use href="#g12_11" stroke="#f7aa26"/><use href="#g12_12" stroke="#f7aa26"/><use href="#g12_13" stroke="#f7aa26"/><use href="#g12_14" stroke="#f7aa26"/><use href="#g12_15" stroke="#f7aa26"/><use href="#g12_16" stroke="#f7aa26"/><use href="#g12_17" stroke="#f7aa26"/><use href="#g12_18" stroke="#f7aa26"/><use href="#g12_19" stroke="#f7aa26"/><use href="#g13_0" stroke="#f7aa26"/><use href="#g13_1" stroke="#f7aa26"/><use href="#g13_2" stroke="#f7aa26"/><use href="#g13_3" stroke="#f7aa26"/><use href="#g13_4" stroke="#f7aa26"/><use href="#g13_5" stroke="#f7aa26"/><use href="#g13_6" stroke="#f7aa26"/><use href="#g13_7" stroke="#f7aa26"/><use href="#g13_8" stroke="#f7aa26"/><use href="#g13_9" stroke="#f7aa26"/><use href="#g13_10" stroke="#f7aa26"/><use href="#g13_11" stroke="#f7aa26"/><use href="#g13_12" stroke="#f7aa26"/><use href="#g13_13" stroke="#f7aa26"/><use href="#g13_14" stroke="#f7aa26"/><use href="#g13_15" stroke="#f7aa26"/><use href="#g13_16" stroke="#f7aa26"/><use href="#g13_17" stroke="#f7aa26"/><use href="#g13_18" stroke="#f7aa26"/><use href="#g13_19" stroke="#f7aa26"/><use href="#g9_1" stroke="#f7aa26"/><use href="#g15_0" stroke="#f7aa26"/><use href="#g0_1" stroke="#f8a827"/><use href="#g3_0" stroke="#f8a827"/><use href="#g5_0" stroke="#f8a827"/><use href="#g8_0" stroke="#f8a827"/><use href="#g6_0" stroke="#f8a428"/><use href="#g7_3" stroke="#f8a428"/><use href="#g14_0" stroke="#f8a428"/><use href="#g9_2" stroke="#f89d29"/><use href="#g15_1" stroke="#f89d29"/><use href="#g6_3" stroke="#f6932d"/><use href="#g7_1" stroke="#f6932d"/><use href="#g14_3" stroke="#f6932d"/><use href="#g9_3" stroke="#f58d30"/><use href="#g15_3" stroke="#f58d30"/></g></g><g transform="translate(296.00 445.00) scale(0.20500 0.21500)" fill="none" stroke-linecap="round"><use href="#all" stroke="#efeff1" stroke-width="9.27"/><g stroke-width="8.54"><use href="#g12_0" stroke="#f7b924"/><use href="#g12_1" stroke="#f7b924"/><use href="#g12_2" stroke="#f7b924"/><use href="#g12_3" stroke="#f7b924"/><use href="#g12_4" stroke="#f7b924"/><use href="#g12_5" stroke="#f7b924"/><use href="#g12_6" stroke="#f7b924"/><use href="#g12_7" stroke="#f7b924"/><use href="#g12_8" stroke="#f7b924"/><use href="#g12_9" stroke="#f7b924"/><use href="#g12_10" stroke="#f7b924"/><use href="#g12_11" stroke="#f7b924"/><use href="#g12_12" stroke="#f7b924"/><use href="#g12_13" stroke="#f7b924"/><use href="#g12_14" stroke="#f7b924"/><use href="#g12_15" stroke="#f7b924"/><use href="#g12_16" stroke="#f7b924"/><use href="#g12_17" stroke="#f7b924"/><use href="#g12_18" stroke="#f7b924"/><use href="#g12_19" stroke="#f7b924"/><use href="#g4_0" stroke="#f7b225"/><use href="#g3_0" stroke="#f7aa26"/><use href="#g8_0" stroke="#f7aa26"/><use href="#g10_0" stroke="#f7aa26"/><use href="#g11_0" stroke="#f7aa26"/><use href="#g1_0" stroke="#f8a128"/><use href="#g6_4" stroke="#f8a128"/><use href="#g7_1" stroke="#f8a128"/><use href="#g14_3" stroke="#f8a128"/><use href="#g0_2" stroke="#f8a128"/><use href="#g13_0" stroke="#f7962b"/><use href="#g13_1" stroke="#f7962b"/><use href="#g13_2" stroke="#f7962b"/><use href="#g13_3" stroke="#f7962b"/><use href="#g13_4" stroke="#f7962b"/><use href="#g13_5" stroke="#f7962b"/><use href="#g13_6" stroke="#f7962b"/><use href="#g13_7" stroke="#f7962b"/><use href="#g13_8" stroke="#f7962b"/><use href="#g13_9" stroke="#f7962b"/><use href="#g13_10" stroke="#f7962b"/><use href="#g13_11" stroke="#f7962b"/><use href="#g13_12" stroke="#f7962b"/><use href="#g13_13" stroke="#f7962b"/><use href="#g13_14" stroke="#f7962b"/><use href="#g13_15" stroke="#f7962b"/><use href="#g13_16" stroke="#f7962b"/><use href="#g13_17" stroke="#f7962b"/><use href="#g13_18" stroke="#f7962b"/><use href="#g13_19" stroke="#f7962b"/><use href="#g0_0" stroke="#f48b31"/><use href="#g9_1" stroke="#f48932"/><use href="#g15_2" stroke="#f48932"/><use href="#g6_2" stroke="#f28435"/><use href="#g7_2" stroke="#f28435"/><use href="#g14_4" stroke="#f28435"/><use href="#g1_1" stroke="#f17f38"/><use href="#g0_1" stroke="#f07b3a"/><use href="#g6_1" stroke="#ec7040"/><use href="#g7_3" stroke="#ec7040"/><use href="#g14_0" stroke="#ec7040"/><use href="#g9_2" stroke="#eb6a43"/><use href="#g15_3" stroke="#eb6a43"/><use href="#g0_3" stroke="#ea6645"/><use href="#g6_0" stroke="#e75d4a"/><use href="#g7_0" stroke="#e75d4a"/><use href="#g14_1" stroke="#e75d4a"/><use href="#g9_3" stroke="#e15453"/><use href="#g15_0" stroke="#e15453"/><use href="#g6_3" stroke="#d64862"/><use href="#g7_4" stroke="#d64862"/><use href="#g14_2" stroke="#d64862"/><use href="#g9_0" stroke="#cd3f6e"/><use href="#g15_1" stroke="#cd3f6e"/></g></g><g transform="translate(381.60 445.00) scale(0.20500 0.21500)" fill="none" stroke-linecap="round"><use href="#all" stroke="#efeff1" stroke-width="9.27"/><g stroke-width="8.54"><use href="#g13_0" stroke="#f7b924"/><use href="#g13_1" stroke="#f7b924"/><use href="#g13_2" stroke="#f7b924"/><use href="#g13_3" stroke="#f7b924"/><use href="#g13_4" stroke="#f7b924"/><use href="#g13_5" stroke="#f7b924"/><use href="#g13_6" stroke="#f7b924"/><use href="#g13_7" stroke="#f7b924"/><use href="#g13_8" stroke="#f7b924"/><use href="#g13_9" stroke="#f7b924"/><use href="#g13_10" stroke="#f7b924"/><use href="#g13_11" stroke="#f7b924"/><use href="#g13_12" stroke="#f7b924"/><use href="#g13_13" stroke="#f7b924"/><use href="#g13_14" stroke="#f7b924"/><use href="#g13_15" stroke="#f7b924"/><use href="#g13_16" stroke="#f7b924"/><use href="#g13_17" stroke="#f7b924"/><use href="#g13_18" stroke="#f7b924"/><use href="#g13_19" stroke="#f7b924"/><use href="#g7_2" stroke="#f7ac26"/><use href="#g2_0" stroke="#f7aa26"/><use href="#g12_0" stroke="#f7aa26"/><use href="#g12_1" stroke="#f7aa26"/><use href="#g12_2" stroke="#f7aa26"/><use href="#g12_3" stroke="#f7aa26"/><use href="#g12_4" stroke="#f7aa26"/><use href="#g12_5" stroke="#f7aa26"/><use href="#g12_6" stroke="#f7aa26"/><use href="#g12_7" stroke="#f7aa26"/><use href="#g12_8" stroke="#f7aa26"/><use href="#g12_9" stroke="#f7aa26"/><use href="#g12_10" stroke="#f7aa26"/><use href="#g12_11" stroke="#f7aa26"/><use href="#g12_12" stroke="#f7aa26"/><use href="#g12_13" stroke="#f7aa26"/><use href="#g12_14" stroke="#f7aa26"/><use href="#g12_15" stroke="#f7aa26"/><use href="#g12_16" stroke="#f7aa26"/><use href="#g12_17" stroke="#f7aa26"/><use href="#g12_18" stroke="#f7aa26"/><use href="#g12_19" stroke="#f7aa26"/><use href="#g11_0" stroke="#f89d29"/><use href="#g4_2" stroke="#f7962b"/><use href="#g11_5" stroke="#f68f2f"/><use href="#g6_0" stroke="#f58f2f"/><use href="#g14_0" stroke="#f58f2f"/><use href="#g9_1" stroke="#f48932"/><use href="#g15_0" stroke="#f48932"/><use href="#g11_2" stroke="#f38733"/><use href="#g7_0" stroke="#f18037"/><use href="#g11_1" stroke="#f17f38"/><use href="#g1_0" stroke="#f07d39"/><use href="#g11_4" stroke="#ee763c"/><use href="#g4_0" stroke="#ed723f"/><use href="#g11_3" stroke="#ea6944"/><use href="#g7_1" stroke="#e86148"/><use href="#g9_0" stroke="#e4584e"/><use href="#g15_1" stroke="#e4584e"/><use href="#g4_1" stroke="#e4574f"/><use href="#g7_3" stroke="#d0426a"/><use href="#g4_3" stroke="#cd3e6f"/></g></g><g transform="translate(124.60 527.70) scale(0.20500 0.21500)" fill="none" stroke-linecap="round"><use href="#all" stroke="#efeff1" stroke-width="9.27"/><g stroke-width="8.54"><use href="#g4_1" stroke="#f7be23"/><use href="#g2_0" stroke="#f7bb23"/><use href="#g3_0" stroke="#f7b724"/><use href="#g0_1" stroke="#f7b225"/><use href="#g1_0" stroke="#f7b225"/><use href="#g8_1" stroke="#f7af25"/><use href="#g5_0" stroke="#f7ab26"/><use href="#g12_0" stroke="#f89c29"/><use href="#g12_1" stroke="#f89c29"/><use href="#g12_2" stroke="#f89c29"/><use href="#g12_3" stroke="#f89c29"/><use href="#g12_4" stroke="#f89c29"/><use href="#g12_5" stroke="#f89c29"/><use href="#g12_6" stroke="#f89c29"/><use href="#g12_7" stroke="#f89c29"/><use href="#g12_8" stroke="#f89c29"/><use href="#g12_9" stroke="#f89c29"/><use href="#g12_10" stroke="#f89c29"/><use href="#g12_11" stroke="#f89c29"/><use href="#g12_12" stroke="#f89c29"/><use href="#g12_13" stroke="#f89c29"/><use href="#g12_14" stroke="#f89c29"/><use href="#g12_15" stroke="#f89c29"/><use href="#g12_16" stroke="#f89c29"/><use href="#g12_17" stroke="#f89c29"/><use href="#g12_18" stroke="#f89c29"/><use href="#g12_19" stroke="#f89c29"/><use href="#g1_1" stroke="#f7952b"/><use href="#g3_1" stroke="#f6912e"/><use href="#g5_1" stroke="#f58f2f"/><use href="#g8_0" stroke="#f48b31"/><use href="#g4_0" stroke="#f17e38"/><use href="#g0_0" stroke="#f07c39"/><use href="#g2_1" stroke="#ee743e"/><use href="#g14_0" stroke="#ed723f"/><use href="#g10_1" stroke="#ea6944"/><use href="#g15_0" stroke="#ea6844"/><use href="#g9_6" stroke="#e75f49"/><use href="#g14_7" stroke="#e65a4c"/><use href="#g15_2" stroke="#dd5058"/><use href="#g10_0" stroke="#dd5059"/><use href="#g14_2" stroke="#dc4f59"/><use href="#g9_2" stroke="#da4d5d"/><use href="#g14_1" stroke="#d54764"/><use href="#g15_4" stroke="#d14369"/><use href="#g9_1" stroke="#d1426a"/><use href="#g14_3" stroke="#cd3f6e"/><use href="#g10_2" stroke="#ca3b73"/><use href="#g9_4" stroke="#c93a74"/><use href="#g14_6" stroke="#c63679"/><use href="#g15_1" stroke="#c5357a"/><use href="#g9_3" stroke="#c2327e"/><use href="#g14_5" stroke="#ba2e84"/><use href="#g9_0" stroke="#b62c86"/><use href="#g6_6" stroke="#ac2a8a"/><use href="#g15_3" stroke="#aa298a"/><use href="#g11_0" stroke="#a9298b"/><use href="#g9_5" stroke="#a6288c"/><use href="#g14_4" stroke="#a0268e"/><use href="#g11_8" stroke="#9c2590"/><use href="#g11_7" stroke="#952393"/><use href="#g6_3" stroke="#922294"/><use href="#g11_1" stroke="#8e2195"/><use href="#g9_7" stroke="#8b2197"/><use href="#g11_6" stroke="#892098"/><use href="#g13_0" stroke="#892098"/><use href="#g13_1" stroke="#892098"/><use href="#g13_2" stroke="#892098"/><use href="#g13_3" stroke="#892098"/><use href="#g13_4" stroke="#892098"/><use href="#g13_5" stroke="#892098"/><use href="#g13_6" stroke="#892098"/><use href="#g13_7" stroke="#892098"/><use href="#g13_8" stroke="#892098"/><use href="#g13_9" stroke="#892098"/><use href="#g13_10" stroke="#892098"/><use href="#g13_11" stroke="#892098"/><use href="#g13_12" stroke="#892098"/><use href="#g13_13" stroke="#892098"/><use href="#g13_14" stroke="#892098"/><use href="#g13_15" stroke="#892098"/><use href="#g13_16" stroke="#892098"/><use href="#g13_17" stroke="#892098"/><use href="#g13_18" stroke="#892098"/><use href="#g13_19" stroke="#892098"/><use href="#g11_4" stroke="#831e9a"/><use href="#g6_1" stroke="#811e9a"/><use href="#g11_5" stroke="#7d1c9c"/><use href="#g7_1" stroke="#761c9b"/><use href="#g11_3" stroke="#751c9b"/><use href="#g6_5" stroke="#741c9b"/><use href="#g11_2" stroke="#691d97"/><use href="#g6_4" stroke="#681d97"/><use href="#g7_3" stroke="#651d96"/><use href="#g6_2" stroke="#5c1e93"/><use href="#g7_2" stroke="#5b1e93"/><use href="#g7_4" stroke="#531f90"/><use href="#g6_7" stroke="#4d1f8e"/><use href="#g7_6" stroke="#4b1f8e"/><use href="#g7_0" stroke="#43208b"/><use href="#g7_7" stroke="#3b2088"/><use href="#g6_0" stroke="#392087"/><use href="#g7_5" stroke="#352084"/></g></g><g transform="translate(210.30 527.70) scale(0.20500 0.21500)" fill="none" stroke-linecap="round"><use href="#all" stroke="#efeff1" stroke-width="9.27"/><g stroke-width="8.54"><use href="#g3_0" stroke="#f7bf22"/><use href="#g8_2" stroke="#f7bf22"/><use href="#g5_2" stroke="#f7b824"/><use href="#g1_1" stroke="#f7b824"/><use href="#g0_1" stroke="#f7b025"/><use href="#g14_1" stroke="#f8a627"/><use href="#g10_0" stroke="#f8a428"/><use href="#g11_0" stroke="#f8a428"/><use href="#g3_1" stroke="#f8a328"/><use href="#g5_1" stroke="#f8a328"/><use href="#g8_0" stroke="#f8a328"/><use href="#g2_0" stroke="#f89f29"/><use href="#g4_0" stroke="#f89f29"/><use href="#g12_0" stroke="#f89c29"/><use href="#g12_1" stroke="#f89c29"/><use href="#g12_2" stroke="#f89c29"/><use href="#g12_3" stroke="#f89c29"/><use href="#g12_4" stroke="#f89c29"/><use href="#g12_5" stroke="#f89c29"/><use href="#g12_6" stroke="#f89c29"/><use href="#g12_7" stroke="#f89c29"/><use href="#g12_8" stroke="#f89c29"/><use href="#g12_9" stroke="#f89c29"/><use href="#g12_10" stroke="#f89c29"/><use href="#g12_11" stroke="#f89c29"/><use href="#g12_12" stroke="#f89c29"/><use href="#g12_13" stroke="#f89c29"/><use href="#g12_14" stroke="#f89c29"/><use href="#g12_15" stroke="#f89c29"/><use href="#g12_16" stroke="#f89c29"/><use href="#g12_17" stroke="#f89c29"/><use href="#g12_18" stroke="#f89c29"/><use href="#g12_19" stroke="#f89c29"/><use href="#g13_0" stroke="#f89c29"/><use href="#g13_1" stroke="#f89c29"/><use href="#g13_2" stroke="#f89c29"/><use href="#g13_3" stroke="#f89c29"/><use href="#g13_4" stroke="#f89c29"/><use href="#g13_5" stroke="#f89c29"/><use href="#g13_6" stroke="#f89c29"/><use href="#g13_7" stroke="#f89c29"/><use href="#g13_8" stroke="#f89c29"/><use href="#g13_9" stroke="#f89c29"/><use href="#g13_10" stroke="#f89c29"/><use href="#g13_11" stroke="#f89c29"/><use href="#g13_12" stroke="#f89c29"/><use href="#g13_13" stroke="#f89c29"/><use href="#g13_14" stroke="#f89c29"/><use href="#g13_15" stroke="#f89c29"/><use href="#g13_16" stroke="#f89c29"/><use href="#g13_17" stroke="#f89c29"/><use href="#g13_18" stroke="#f89c29"/><use href="#g13_19" stroke="#f89c29"/><use href="#g1_2" stroke="#f7962b"/><use href="#g6_6" stroke="#f6912e"/><use href="#g5_0" stroke="#f6902e"/><use href="#g0_2" stroke="#f58f2f"/><use href="#g14_6" stroke="#f58f2f"/><use href="#g9_5" stroke="#f58f2f"/><use href="#g15_4" stroke="#f58f2f"/><use href="#g3_2" stroke="#f48a32"/><use href="#g8_1" stroke="#f48a32"/><use href="#g10_1" stroke="#f48932"/><use href="#g11_1" stroke="#f48932"/><use href="#g14_0" stroke="#f28236"/><use href="#g9_1" stroke="#ef793b"/><use href="#g15_0" stroke="#ef793b"/><use href="#g6_2" stroke="#ef793b"/><use href="#g7_2" stroke="#ef783c"/><use href="#g1_0" stroke="#ef783c"/><use href="#g14_2" stroke="#ee773c"/><use href="#g2_1" stroke="#ee743e"/><use href="#g4_1" stroke="#ee743e"/><use href="#g0_0" stroke="#ed713f"/><use href="#g14_4" stroke="#eb6b43"/><use href="#g9_2" stroke="#eb6a43"/><use href="#g15_5" stroke="#eb6a43"/><use href="#g6_7" stroke="#eb6a43"/><use href="#g7_6" stroke="#e86049"/><use href="#g14_3" stroke="#e75e4a"/><use href="#g9_0" stroke="#e75d4a"/><use href="#g15_1" stroke="#e75d4a"/><use href="#g6_3" stroke="#e75d4a"/><use href="#g6_0" stroke="#e15453"/><use href="#g7_7" stroke="#e05454"/><use href="#g9_4" stroke="#df5256"/><use href="#g15_3" stroke="#df5256"/><use href="#g14_5" stroke="#db4e5b"/><use href="#g6_5" stroke="#d94c5e"/><use href="#g7_1" stroke="#d94b5f"/><use href="#g9_3" stroke="#d14369"/><use href="#g15_2" stroke="#d14369"/><use href="#g7_3" stroke="#d14369"/><use href="#g6_1" stroke="#d0416b"/><use href="#g7_5" stroke="#c93a74"/><use href="#g6_4" stroke="#c13180"/><use href="#g7_0" stroke="#c03081"/><use href="#g7_4" stroke="#a6288c"/></g></g><g transform="translate(296.00 527.70) scale(0.20500 0.21500)" fill="none" stroke-linecap="round"><use href="#all" stroke="#efeff1" stroke-width="9.27"/><g stroke-width="8.54"><use href="#g7_1" stroke="#f7b924"/><use href="#g3_0" stroke="#f7aa26"/><use href="#g8_0" stroke="#f7aa26"/><use href="#g10_0" stroke="#f7aa26"/><use href="#g11_0" stroke="#f7aa26"/><use href="#g12_0" stroke="#f7aa26"/><use href="#g12_1" stroke="#f7aa26"/><use href="#g12_2" stroke="#f7aa26"/><use href="#g12_3" stroke="#f7aa26"/><use href="#g12_4" stroke="#f7aa26"/><use href="#g12_5" stroke="#f7aa26"/><use href="#g12_6" stroke="#f7aa26"/><use href="#g12_7" stroke="#f7aa26"/><use href="#g12_8" stroke="#f7aa26"/><use href="#g12_9" stroke="#f7aa26"/><use href="#g12_10" stroke="#f7aa26"/><use href="#g12_11" stroke="#f7aa26"/><use href="#g12_12" stroke="#f7aa26"/><use href="#g12_13" stroke="#f7aa26"/><use href="#g12_14" stroke="#f7aa26"/><use href="#g12_15" stroke="#f7aa26"/><use href="#g12_16" stroke="#f7aa26"/><use href="#g12_17" stroke="#f7aa26"/><use href="#g12_18" stroke="#f7aa26"/><use href="#g12_19" stroke="#f7aa26"/><use href="#g0_0" stroke="#f8aa27"/><use href="#g2_0" stroke="#f8aa27"/><use href="#g6_0" stroke="#f8a428"/><use href="#g14_0" stroke="#f8a428"/><use href="#g4_0" stroke="#f8a328"/><use href="#g5_0" stroke="#f89c29"/><use href="#g7_0" stroke="#f89c29"/><use href="#g0_2" stroke="#f58f2f"/><use href="#g2_1" stroke="#f58f2f"/><use href="#g6_1" stroke="#f58e30"/><use href="#g14_1" stroke="#f58e30"/><use href="#g6_2" stroke="#f07e38"/><use href="#g14_2" stroke="#f07e38"/><use href="#g0_1" stroke="#ef773c"/><use href="#g2_2" stroke="#ef773c"/><use href="#g13_0" stroke="#ee773c"/><use href="#g13_1" stroke="#ee773c"/><use href="#g13_2" stroke="#ee773c"/><use href="#g13_3" stroke="#ee773c"/><use href="#g13_4" stroke="#ee773c"/><use href="#g13_5" stroke="#ee773c"/><use href="#g13_6" stroke="#ee773c"/><use href="#g13_7" stroke="#ee773c"/><use href="#g13_8" stroke="#ee773c"/><use href="#g13_9" stroke="#ee773c"/><use href="#g13_10" stroke="#ee773c"/><use href="#g13_11" stroke="#ee773c"/><use href="#g13_12" stroke="#ee773c"/><use href="#g13_13" stroke="#ee773c"/><use href="#g13_14" stroke="#ee773c"/><use href="#g13_15" stroke="#ee773c"/><use href="#g13_16" stroke="#ee773c"/><use href="#g13_17" stroke="#ee773c"/><use href="#g13_18" stroke="#ee773c"/><use href="#g13_19" stroke="#ee773c"/><use href="#g6_3" stroke="#ea6944"/><use href="#g14_3" stroke="#ea6944"/></g></g><g transform="translate(381.60 527.70) scale(0.20500 0.21500)" fill="none" stroke-linecap="round"><use href="#all" stroke="#efeff1" stroke-width="9.27"/><g stroke-width="8.54"><use href="#g5_3" stroke="#f7c322"/><use href="#g7_1" stroke="#f7c322"/><use href="#g1_1" stroke="#f7bf22"/><use href="#g4_0" stroke="#f7bf22"/><use href="#g3_2" stroke="#f7bc23"/><use href="#g6_1" stroke="#f7bc23"/><use href="#g14_2" stroke="#f7bc23"/><use href="#g9_0" stroke="#f7bb23"/><use href="#g15_1" stroke="#f7bb23"/><use href="#g0_3" stroke="#f7ba23"/><use href="#g8_0" stroke="#f7b824"/><use href="#g10_1" stroke="#f7b424"/><use href="#g11_1" stroke="#f7b424"/><use href="#g2_1" stroke="#f7b325"/><use href="#g5_1" stroke="#f7b125"/><use href="#g7_3" stroke="#f7b125"/><use href="#g0_2" stroke="#f7ab26"/><use href="#g1_2" stroke="#f7aa26"/><use href="#g4_2" stroke="#f7aa26"/><use href="#g3_3" stroke="#f7aa26"/><use href="#g6_0" stroke="#f7aa26"/><use href="#g14_3" stroke="#f7aa26"/><use href="#g9_1" stroke="#f8a827"/><use href="#g15_0" stroke="#f8a827"/><use href="#g8_1" stroke="#f8a727"/><use href="#g5_0" stroke="#f8a428"/><use href="#g7_2" stroke="#f8a428"/><use href="#g2_3" stroke="#f8a428"/><use href="#g12_0" stroke="#f8a328"/><use href="#g12_1" stroke="#f8a328"/><use href="#g12_2" stroke="#f8a328"/><use href="#g12_3" stroke="#f8a328"/><use href="#g12_4" stroke="#f8a328"/><use href="#g12_5" stroke="#f8a328"/><use href="#g12_6" stroke="#f8a328"/><use href="#g12_7" stroke="#f8a328"/><use href="#g12_8" stroke="#f8a328"/><use href="#g12_9" stroke="#f8a328"/><use href="#g12_10" stroke="#f8a328"/><use href="#g12_11" stroke="#f8a328"/><use href="#g12_12" stroke="#f8a328"/><use href="#g12_13" stroke="#f8a328"/><use href="#g12_14" stroke="#f8a328"/><use href="#g12_15" stroke="#f8a328"/><use href="#g12_16" stroke="#f8a328"/><use href="#g12_17" stroke="#f8a328"/><use href="#g12_18" stroke="#f8a328"/><use href="#g12_19" stroke="#f8a328"/><use href="#g13_0" stroke="#f8a328"/><use href="#g13_1" stroke="#f8a328"/><use href="#g13_2" stroke="#f8a328"/><use href="#g13_3" stroke="#f8a328"/><use href="#g13_4" stroke="#f8a328"/><use href="#g13_5" stroke="#f8a328"/><use href="#g13_6" stroke="#f8a328"/><use href="#g13_7" stroke="#f8a328"/><use href="#g13_8" stroke="#f8a328"/><use href="#g13_9" stroke="#f8a328"/><use href="#g13_10" stroke="#f8a328"/><use href="#g13_11" stroke="#f8a328"/><use href="#g13_12" stroke="#f8a328"/><use href="#g13_13" stroke="#f8a328"/><use href="#g13_14" stroke="#f8a328"/><use href="#g13_15" stroke="#f8a328"/><use href="#g13_16" stroke="#f8a328"/><use href="#g13_17" stroke="#f8a328"/><use href="#g13_18" stroke="#f8a328"/><use href="#g13_19" stroke="#f8a328"/><use href="#g10_0" stroke="#f8a128"/><use href="#g11_0" stroke="#f8a128"/><use href="#g0_4" stroke="#f8a128"/><use href="#g3_1" stroke="#f89d29"/><use href="#g6_3" stroke="#f89d29"/><use href="#g14_0" stroke="#f89d29"/><use href="#g8_2" stroke="#f89c29"/><use href="#g2_2" stroke="#f89a2a"/><use href="#g0_1" stroke="#f8982a"/><use href="#g1_0" stroke="#f7962b"/><use href="#g4_1" stroke="#f7962b"/><use href="#g5_2" stroke="#f6932d"/><use href="#g7_0" stroke="#f6932d"/><use href="#g8_3" stroke="#f6922d"/><use href="#g2_4" stroke="#f6922e"/><use href="#g0_0" stroke="#f58f2f"/><use href="#g3_0" stroke="#f58d30"/><use href="#g6_2" stroke="#f58d30"/><use href="#g14_1" stroke="#f58d30"/><use href="#g2_5" stroke="#f48932"/><use href="#g8_4" stroke="#f28435"/><use href="#g0_5" stroke="#f28236"/><use href="#g2_0" stroke="#f07c39"/></g></g><g stroke="#000" stroke-width="1.35" fill="none"><path d="M88.9 319.7V379.5"/><path d="M84 340.8H88.9"/><path d="M84 362.3H88.9"/><path d="M88.9 402.4V462.2"/><path d="M84 423.5H88.9"/><path d="M84 445.0H88.9"/><path d="M88.9 485.1V545.5H167.9"/><path d="M84 506.2H88.9"/><path d="M84 527.7H88.9"/><path d="M174.5 545.5H253.6"/><path d="M260.2 545.5H339.3"/><path d="M345.8 545.5H424.9"/><path d="M104.1 545.5V550.2"/><path d="M124.6 545.5V550.2"/><path d="M145.1 545.5V550.2"/><path d="M165.6 545.5V550.2"/><path d="M189.8 545.5V550.2"/><path d="M210.3 545.5V550.2"/><path d="M230.8 545.5V550.2"/><path d="M251.3 545.5V550.2"/><path d="M275.5 545.5V550.2"/><path d="M296.0 545.5V550.2"/><path d="M316.5 545.5V550.2"/><path d="M337.0 545.5V550.2"/><path d="M361.1 545.5V550.2"/><path d="M381.6 545.5V550.2"/><path d="M402.1 545.5V550.2"/><path d="M422.6 545.5V550.2"/></g><g font-family="Liberation Sans, sans-serif" fill="#141414"><text transform="translate(78.60 345.20) scale(0.900 1)" font-size="12.30" text-anchor="end">5</text><text transform="translate(78.60 366.70) scale(0.900 1)" font-size="12.30" text-anchor="end">0</text><text transform="translate(78.60 427.90) scale(0.900 1)" font-size="12.30" text-anchor="end">5</text><text transform="translate(78.60 449.40) scale(0.900 1)" font-size="12.30" text-anchor="end">0</text><text transform="translate(78.60 510.60) scale(0.900 1)" font-size="12.30" text-anchor="end">5</text><text transform="translate(78.60 532.10) scale(0.900 1)" font-size="12.30" text-anchor="end">0</text><text x="101.80" y="564.30" font-size="12.30" text-anchor="middle" textLength="14.20" lengthAdjust="spacingAndGlyphs" >&#8211;5</text><text transform="translate(124.60 564.30) scale(0.900 1)" font-size="12.30" text-anchor="middle">0</text><text transform="translate(145.10 564.30) scale(0.900 1)" font-size="12.30" text-anchor="middle">5</text><text transform="translate(165.60 564.30) scale(0.900 1)" font-size="12.30" text-anchor="middle">10</text><text x="187.50" y="564.30" font-size="12.30" text-anchor="middle" textLength="14.20" lengthAdjust="spacingAndGlyphs" >&#8211;5</text><text transform="translate(210.30 564.30) scale(0.900 1)" font-size="12.30" text-anchor="middle">0</text><text transform="translate(230.80 564.30) scale(0.900 1)" font-size="12.30" text-anchor="middle">5</text><text transform="translate(251.30 564.30) scale(0.900 1)" font-size="12.30" text-anchor="middle">10</text><text x="273.20" y="564.30" font-size="12.30" text-anchor="middle" textLength="14.20" lengthAdjust="spacingAndGlyphs" >&#8211;5</text><text transform="translate(296.00 564.30) scale(0.900 1)" font-size="12.30" text-anchor="middle">0</text><text transform="translate(316.50 564.30) scale(0.900 1)" font-size="12.30" text-anchor="middle">5</text><text transform="translate(337.00 564.30) scale(0.900 1)" font-size="12.30" text-anchor="middle">10</text><text x="358.80" y="564.30" font-size="12.30" text-anchor="middle" textLength="14.20" lengthAdjust="spacingAndGlyphs" >&#8211;5</text><text transform="translate(381.60 564.30) scale(0.900 1)" font-size="12.30" text-anchor="middle">0</text><text transform="translate(402.10 564.30) scale(0.900 1)" font-size="12.30" text-anchor="middle">5</text><text transform="translate(422.60 564.30) scale(0.900 1)" font-size="12.30" text-anchor="middle">10</text><text x="129.20" y="314.90" font-size="11.00" text-anchor="middle" textLength="22.35" lengthAdjust="spacingAndGlyphs" font-style="italic" stroke="#222" stroke-width="0.1">Lef1</text><text x="215.40" y="314.90" font-size="11.00" text-anchor="middle" textLength="20.40" lengthAdjust="spacingAndGlyphs" font-style="italic" stroke="#222" stroke-width="0.1">Tcf7</text><text x="300.60" y="314.90" font-size="11.00" text-anchor="middle" textLength="22.80" lengthAdjust="spacingAndGlyphs" font-style="italic" stroke="#222" stroke-width="0.1">Il2ra</text><text x="388.00" y="314.90" font-size="11.00" text-anchor="middle" textLength="34.20" lengthAdjust="spacingAndGlyphs" font-style="italic" stroke="#222" stroke-width="0.1">Foxp3</text><text x="130.40" y="397.60" font-size="11.00" text-anchor="middle" textLength="17.80" lengthAdjust="spacingAndGlyphs" font-style="italic" stroke="#222" stroke-width="0.1">Tnf</text><text x="215.40" y="397.60" font-size="11.00" text-anchor="middle" textLength="21.30" lengthAdjust="spacingAndGlyphs" font-style="italic" stroke="#222" stroke-width="0.1">Fasl</text><text x="300.80" y="397.60" font-size="11.00" text-anchor="middle" textLength="21.50" lengthAdjust="spacingAndGlyphs" font-style="italic" stroke="#222" stroke-width="0.1">Ifng</text><text x="387.80" y="397.60" font-size="11.00" text-anchor="middle" textLength="32.30" lengthAdjust="spacingAndGlyphs" font-style="italic" stroke="#222" stroke-width="0.1">Gzmb</text><text x="130.20" y="480.30" font-size="11.00" text-anchor="middle" textLength="23.70" lengthAdjust="spacingAndGlyphs" font-style="italic" stroke="#222" stroke-width="0.1">Ccl5</text><text x="214.60" y="480.30" font-size="11.00" text-anchor="middle" textLength="28.90" lengthAdjust="spacingAndGlyphs" font-style="italic" stroke="#222" stroke-width="0.1">Nkg7</text><text x="301.10" y="480.30" font-size="11.00" text-anchor="middle" textLength="19.10" lengthAdjust="spacingAndGlyphs" font-style="italic" stroke="#222" stroke-width="0.1">Il10</text><text x="388.40" y="480.30" font-size="11.00" text-anchor="middle" textLength="18.10" lengthAdjust="spacingAndGlyphs" font-style="italic" stroke="#222" stroke-width="0.1">Tox</text><text x="242.15" y="583.80" font-size="13.40" text-anchor="middle" textLength="39.60" lengthAdjust="spacingAndGlyphs" >UMAP 1</text><g transform="translate(63.2 433.4) rotate(-90)"><text x="0.00" y="0.00" font-size="13.40" text-anchor="middle" textLength="40.40" lengthAdjust="spacingAndGlyphs" >UMAP 2</text></g><text x="442.10" y="394.70" font-size="10.40" font-weight="normal" text-anchor="start"  >RNA</text><text x="441.90" y="408.00" font-size="10.60" text-anchor="start" textLength="27.00" lengthAdjust="spacingAndGlyphs" >exprs</text></g><defs><linearGradient id="pl" x1="0" y1="1" x2="0" y2="0"><stop offset="0.00" stop-color="#f6df1c"/><stop offset="0.10" stop-color="#f7b524"/><stop offset="0.20" stop-color="#f58d30"/><stop offset="0.30" stop-color="#ea6844"/><stop offset="0.40" stop-color="#d84b5f"/><stop offset="0.50" stop-color="#c1317f"/><stop offset="0.60" stop-color="#9a2591"/><stop offset="0.70" stop-color="#731d9a"/><stop offset="0.80" stop-color="#4e1f8f"/><stop offset="0.90" stop-color="#352084"/><stop offset="1.00" stop-color="#27207a"/></linearGradient></defs><rect x="440.9" y="413.4" width="12.8" height="64.7" fill="url(#pl)"/><g stroke="#fff" stroke-width="0.8" opacity="0.7"><path d="M440.9 467.5h2.4M451.3 467.5h2.4"/><path d="M440.9 456.4h2.4M451.3 456.4h2.4"/><path d="M440.9 445.4h2.4M451.3 445.4h2.4"/><path d="M440.9 434.3h2.4M451.3 434.3h2.4"/><path d="M440.9 423.3h2.4M451.3 423.3h2.4"/></g><g font-family="Liberation Sans, sans-serif" fill="#141414"><text x="458.60" y="482.50" font-size="11.20" font-weight="normal" text-anchor="start"  >0</text><text x="458.60" y="471.46" font-size="11.20" font-weight="normal" text-anchor="start"  >1</text><text x="458.60" y="460.42" font-size="11.20" font-weight="normal" text-anchor="start"  >2</text><text x="458.60" y="449.38" font-size="11.20" font-weight="normal" text-anchor="start"  >3</text><text x="458.60" y="438.34" font-size="11.20" font-weight="normal" text-anchor="start"  >4</text><text x="458.60" y="427.30" font-size="11.20" font-weight="normal" text-anchor="start"  >5</text></g><g transform="translate(96.50 680.70) scale(0.23250 0.23250)" fill="none" stroke-linecap="round"><use href="#all" stroke="#efeff1" stroke-width="8.17"/><g stroke-width="7.74"><use href="#g5_0" stroke="#f48c31"/><use href="#g11_1" stroke="#f48a32"/><use href="#g3_0" stroke="#ef793b"/><use href="#g4_0" stroke="#ef793b"/><use href="#g6_2" stroke="#ed713f"/><use href="#g14_1" stroke="#ed713f"/><use href="#g11_3" stroke="#ec6e41"/><use href="#g0_0" stroke="#eb6b43"/><use href="#g7_0" stroke="#eb6b43"/><use href="#g12_13" stroke="#e96646"/><use href="#g9_0" stroke="#e86049"/><use href="#g15_0" stroke="#e86049"/><use href="#g10_1" stroke="#e85f49"/><use href="#g2_2" stroke="#e75d4b"/><use href="#g12_2" stroke="#e75c4b"/><use href="#g11_0" stroke="#e65a4c"/><use href="#g12_5" stroke="#e4584f"/><use href="#g8_0" stroke="#e25651"/><use href="#g12_12" stroke="#e15552"/><use href="#g12_18" stroke="#df5355"/><use href="#g13_16" stroke="#de5157"/><use href="#g12_7" stroke="#dd5158"/><use href="#g12_16" stroke="#dc4f5a"/><use href="#g6_1" stroke="#da4d5c"/><use href="#g14_2" stroke="#da4d5c"/><use href="#g12_0" stroke="#da4d5c"/><use href="#g3_1" stroke="#da4d5c"/><use href="#g13_13" stroke="#da4d5d"/><use href="#g11_2" stroke="#da4c5d"/><use href="#g2_4" stroke="#d94b5e"/><use href="#g12_19" stroke="#d94b5f"/><use href="#g13_12" stroke="#d84a60"/><use href="#g12_1" stroke="#d74a61"/><use href="#g10_2" stroke="#d64962"/><use href="#g13_17" stroke="#d64862"/><use href="#g12_8" stroke="#d64863"/><use href="#g13_4" stroke="#d44764"/><use href="#g12_9" stroke="#d44665"/><use href="#g13_5" stroke="#d34566"/><use href="#g12_3" stroke="#d34567"/><use href="#g13_9" stroke="#d24467"/><use href="#g12_11" stroke="#d14369"/><use href="#g13_7" stroke="#d14369"/><use href="#g13_6" stroke="#d0426a"/><use href="#g12_10" stroke="#cf416b"/><use href="#g13_10" stroke="#cf416c"/><use href="#g2_1" stroke="#cf406c"/><use href="#g13_15" stroke="#ce406d"/><use href="#g12_14" stroke="#ce3f6e"/><use href="#g13_8" stroke="#cd3f6e"/><use href="#g13_0" stroke="#cc3d70"/><use href="#g0_1" stroke="#cc3d70"/><use href="#g7_1" stroke="#cc3d70"/><use href="#g12_6" stroke="#cb3d71"/><use href="#g13_1" stroke="#cb3c71"/><use href="#g13_11" stroke="#ca3b73"/><use href="#g12_17" stroke="#c93a74"/><use href="#g13_2" stroke="#c93a75"/><use href="#g11_4" stroke="#c83976"/><use href="#g13_14" stroke="#c73876"/><use href="#g13_18" stroke="#c63679"/><use href="#g12_4" stroke="#c63679"/><use href="#g2_0" stroke="#c4357b"/><use href="#g10_0" stroke="#c4347c"/><use href="#g13_19" stroke="#c3347c"/><use href="#g6_0" stroke="#c03081"/><use href="#g14_0" stroke="#c03081"/><use href="#g12_15" stroke="#bf3081"/><use href="#g13_3" stroke="#bf2f82"/><use href="#g2_3" stroke="#af2a89"/></g></g><g transform="translate(194.35 680.70) scale(0.23250 0.23250)" fill="none" stroke-linecap="round"><use href="#all" stroke="#efeff1" stroke-width="8.17"/><g stroke-width="7.74"><use href="#g11_0" stroke="#f8992a"/><use href="#g5_0" stroke="#f7952c"/><use href="#g3_0" stroke="#f58f2f"/><use href="#g12_6" stroke="#f38833"/><use href="#g6_1" stroke="#f38733"/><use href="#g14_0" stroke="#f38733"/><use href="#g0_0" stroke="#f38733"/><use href="#g7_0" stroke="#f38733"/><use href="#g2_2" stroke="#f28535"/><use href="#g4_0" stroke="#f28236"/><use href="#g12_4" stroke="#f07e38"/><use href="#g11_2" stroke="#f07d39"/><use href="#g10_0" stroke="#f07b3a"/><use href="#g12_14" stroke="#ef793b"/><use href="#g9_0" stroke="#ee763d"/><use href="#g15_0" stroke="#ee763d"/><use href="#g12_7" stroke="#ee753d"/><use href="#g12_16" stroke="#ed713f"/><use href="#g8_0" stroke="#ec7040"/><use href="#g12_1" stroke="#ec6e41"/><use href="#g2_1" stroke="#ec6d41"/><use href="#g12_15" stroke="#eb6c42"/><use href="#g11_3" stroke="#ea6a44"/><use href="#g12_5" stroke="#ea6944"/><use href="#g13_0" stroke="#ea6944"/><use href="#g12_12" stroke="#ea6745"/><use href="#g12_2" stroke="#e96446"/><use href="#g13_3" stroke="#e86347"/><use href="#g12_11" stroke="#e86248"/><use href="#g12_10" stroke="#e86049"/><use href="#g13_16" stroke="#e75f49"/><use href="#g12_3" stroke="#e75d4a"/><use href="#g2_0" stroke="#e75d4a"/><use href="#g6_2" stroke="#e75d4a"/><use href="#g10_1" stroke="#e75d4a"/><use href="#g14_1" stroke="#e75d4a"/><use href="#g3_1" stroke="#e75d4a"/><use href="#g13_17" stroke="#e75c4b"/><use href="#g12_8" stroke="#e65b4c"/><use href="#g13_14" stroke="#e65a4c"/><use href="#g12_0" stroke="#e5594e"/><use href="#g13_19" stroke="#e5594e"/><use href="#g13_5" stroke="#e4574f"/><use href="#g11_1" stroke="#e3574f"/><use href="#g12_19" stroke="#e35750"/><use href="#g13_13" stroke="#e35651"/><use href="#g13_6" stroke="#e25552"/><use href="#g12_17" stroke="#e15453"/><use href="#g13_15" stroke="#e15453"/><use href="#g13_12" stroke="#e05355"/><use href="#g13_10" stroke="#df5256"/><use href="#g12_18" stroke="#de5257"/><use href="#g2_3" stroke="#de5157"/><use href="#g13_2" stroke="#de5158"/><use href="#g0_1" stroke="#dd5058"/><use href="#g7_1" stroke="#dd5058"/><use href="#g13_4" stroke="#dd5059"/><use href="#g13_18" stroke="#db4e5b"/><use href="#g12_13" stroke="#db4e5b"/><use href="#g13_8" stroke="#da4d5c"/><use href="#g13_7" stroke="#d94c5e"/><use href="#g13_11" stroke="#d74a61"/><use href="#g10_2" stroke="#d54763"/><use href="#g13_9" stroke="#d54764"/><use href="#g12_9" stroke="#d54764"/><use href="#g11_4" stroke="#d24468"/><use href="#g13_1" stroke="#d14369"/><use href="#g2_4" stroke="#cf416c"/><use href="#g6_0" stroke="#ce3f6e"/><use href="#g14_2" stroke="#ce3f6e"/></g></g><g transform="translate(292.20 680.70) scale(0.23250 0.23250)" fill="none" stroke-linecap="round"><use href="#all" stroke="#efeff1" stroke-width="8.17"/><g stroke-width="7.74"><use href="#g11_3" stroke="#f7932d"/><use href="#g5_0" stroke="#f58f2f"/><use href="#g12_1" stroke="#f38833"/><use href="#g3_0" stroke="#f28336"/><use href="#g6_1" stroke="#f18137"/><use href="#g14_0" stroke="#f18137"/><use href="#g12_13" stroke="#f07e38"/><use href="#g4_0" stroke="#f07c39"/><use href="#g0_1" stroke="#ef7a3a"/><use href="#g7_1" stroke="#ef7a3a"/><use href="#g12_6" stroke="#ef793b"/><use href="#g2_3" stroke="#ef783b"/><use href="#g11_0" stroke="#ee773c"/><use href="#g12_4" stroke="#ee753d"/><use href="#g12_10" stroke="#ed713f"/><use href="#g10_1" stroke="#ec6f41"/><use href="#g12_16" stroke="#ec6e41"/><use href="#g12_17" stroke="#eb6c42"/><use href="#g9_0" stroke="#ea6a44"/><use href="#g15_0" stroke="#ea6a44"/><use href="#g12_7" stroke="#ea6944"/><use href="#g12_2" stroke="#ea6745"/><use href="#g12_5" stroke="#e96446"/><use href="#g8_0" stroke="#e96347"/><use href="#g11_1" stroke="#e96347"/><use href="#g12_18" stroke="#e86248"/><use href="#g2_2" stroke="#e86148"/><use href="#g12_11" stroke="#e86049"/><use href="#g12_8" stroke="#e75d4a"/><use href="#g13_18" stroke="#e75d4b"/><use href="#g12_15" stroke="#e65b4c"/><use href="#g12_12" stroke="#e5594e"/><use href="#g6_0" stroke="#e4584f"/><use href="#g14_1" stroke="#e4584f"/><use href="#g13_15" stroke="#e4574f"/><use href="#g12_19" stroke="#e35750"/><use href="#g13_1" stroke="#e15552"/><use href="#g12_14" stroke="#e15453"/><use href="#g2_1" stroke="#e05454"/><use href="#g10_0" stroke="#e05454"/><use href="#g3_1" stroke="#e05354"/><use href="#g13_8" stroke="#e05355"/><use href="#g11_4" stroke="#e05355"/><use href="#g12_0" stroke="#de5257"/><use href="#g13_5" stroke="#de5157"/><use href="#g13_6" stroke="#dd5058"/><use href="#g13_16" stroke="#dc4f5a"/><use href="#g12_9" stroke="#db4e5b"/><use href="#g13_12" stroke="#db4e5b"/><use href="#g13_7" stroke="#da4d5d"/><use href="#g13_0" stroke="#d94b5e"/><use href="#g13_14" stroke="#d84a60"/><use href="#g13_19" stroke="#d74961"/><use href="#g2_4" stroke="#d64862"/><use href="#g13_2" stroke="#d64862"/><use href="#g0_0" stroke="#d64863"/><use href="#g7_0" stroke="#d64863"/><use href="#g12_3" stroke="#d54764"/><use href="#g13_10" stroke="#d54764"/><use href="#g13_13" stroke="#d44665"/><use href="#g13_17" stroke="#d24467"/><use href="#g13_3" stroke="#d14369"/><use href="#g13_4" stroke="#cf416b"/><use href="#g11_2" stroke="#ce3f6d"/><use href="#g10_2" stroke="#cd3f6e"/><use href="#g13_9" stroke="#cd3f6e"/><use href="#g6_2" stroke="#ca3b73"/><use href="#g14_2" stroke="#ca3b73"/><use href="#g13_11" stroke="#c93a74"/><use href="#g2_0" stroke="#c73877"/></g></g><g transform="translate(390.05 680.70) scale(0.23250 0.23250)" fill="none" stroke-linecap="round"><use href="#all" stroke="#efeff1" stroke-width="8.17"/><g stroke-width="7.74"><use href="#g5_0" stroke="#f48c31"/><use href="#g11_3" stroke="#f28335"/><use href="#g3_1" stroke="#ef793b"/><use href="#g4_0" stroke="#ef793b"/><use href="#g12_4" stroke="#ed723f"/><use href="#g6_0" stroke="#ed713f"/><use href="#g14_2" stroke="#ed713f"/><use href="#g0_1" stroke="#ed713f"/><use href="#g7_0" stroke="#ed713f"/><use href="#g12_3" stroke="#ea6844"/><use href="#g11_1" stroke="#ea6745"/><use href="#g10_2" stroke="#e96546"/><use href="#g12_0" stroke="#e96347"/><use href="#g2_1" stroke="#e96347"/><use href="#g9_0" stroke="#e86049"/><use href="#g15_0" stroke="#e86049"/><use href="#g12_12" stroke="#e75f49"/><use href="#g12_9" stroke="#e65c4b"/><use href="#g8_0" stroke="#e65a4c"/><use href="#g12_5" stroke="#e5594d"/><use href="#g12_11" stroke="#e4574f"/><use href="#g11_4" stroke="#e25651"/><use href="#g12_6" stroke="#e25652"/><use href="#g12_17" stroke="#e05454"/><use href="#g12_19" stroke="#df5256"/><use href="#g13_13" stroke="#de5157"/><use href="#g12_2" stroke="#dd5158"/><use href="#g2_3" stroke="#dd5059"/><use href="#g12_15" stroke="#dc4f5a"/><use href="#g12_18" stroke="#da4d5c"/><use href="#g6_2" stroke="#da4d5c"/><use href="#g10_1" stroke="#da4d5c"/><use href="#g14_1" stroke="#da4d5c"/><use href="#g3_0" stroke="#da4d5c"/><use href="#g13_6" stroke="#da4d5d"/><use href="#g12_13" stroke="#d94c5e"/><use href="#g13_10" stroke="#d84a60"/><use href="#g12_8" stroke="#d74a60"/><use href="#g13_2" stroke="#d64862"/><use href="#g11_2" stroke="#d64862"/><use href="#g12_7" stroke="#d54863"/><use href="#g13_5" stroke="#d44764"/><use href="#g12_14" stroke="#d34566"/><use href="#g13_19" stroke="#d34566"/><use href="#g2_4" stroke="#d24467"/><use href="#g13_14" stroke="#d24467"/><use href="#g13_11" stroke="#d14369"/><use href="#g12_10" stroke="#d14369"/><use href="#g13_15" stroke="#d0426a"/><use href="#g0_0" stroke="#d0416b"/><use href="#g7_1" stroke="#d0416b"/><use href="#g13_16" stroke="#cf416c"/><use href="#g13_7" stroke="#ce406d"/><use href="#g12_1" stroke="#cd3f6e"/><use href="#g13_12" stroke="#cd3f6e"/><use href="#g13_3" stroke="#cc3d70"/><use href="#g13_18" stroke="#cb3c71"/><use href="#g13_1" stroke="#ca3b73"/><use href="#g13_8" stroke="#c93a75"/><use href="#g2_0" stroke="#c83975"/><use href="#g10_0" stroke="#c73876"/><use href="#g13_4" stroke="#c73876"/><use href="#g12_16" stroke="#c73877"/><use href="#g13_9" stroke="#c63679"/><use href="#g11_0" stroke="#c4357b"/><use href="#g13_0" stroke="#c3347c"/><use href="#g6_1" stroke="#c03081"/><use href="#g14_0" stroke="#c03081"/><use href="#g13_17" stroke="#bf2f82"/><use href="#g2_2" stroke="#b52c86"/></g></g><g stroke="#000" stroke-width="1.35" fill="none"><path d="M55.7 634.2V700.4H146.5"/><path d="M51 657.5H55.7"/><path d="M51 680.7H55.7"/><path d="M153.1 700.4H244.3"/><path d="M251.0 700.4H342.2"/><path d="M348.8 700.4H440.0"/><path d="M73.2 700.4V705"/><path d="M96.5 700.4V705"/><path d="M119.8 700.4V705"/><path d="M143.0 700.4V705"/><path d="M171.1 700.4V705"/><path d="M194.3 700.4V705"/><path d="M217.6 700.4V705"/><path d="M240.8 700.4V705"/><path d="M268.9 700.4V705"/><path d="M292.2 700.4V705"/><path d="M315.4 700.4V705"/><path d="M338.7 700.4V705"/><path d="M366.8 700.4V705"/><path d="M390.0 700.4V705"/><path d="M413.3 700.4V705"/><path d="M436.5 700.4V705"/></g><g font-family="Liberation Sans, sans-serif" fill="#141414"><text x="46.30" y="661.45" font-size="11.20" font-weight="normal" text-anchor="end"  >5</text><text x="46.30" y="684.70" font-size="11.20" font-weight="normal" text-anchor="end"  >0</text><text x="71.45" y="718.80" font-size="11.60" text-anchor="middle" textLength="16.00" lengthAdjust="spacingAndGlyphs" >&#8211;5</text><text x="96.50" y="718.80" font-size="11.80" font-weight="normal" text-anchor="middle"  >0</text><text x="119.75" y="718.80" font-size="11.80" font-weight="normal" text-anchor="middle"  >5</text><text x="143.60" y="718.80" font-size="11.80" font-weight="normal" text-anchor="middle"  >10</text><text x="100.00" y="628.80" font-size="10.60" text-anchor="middle" textLength="39.20" lengthAdjust="spacingAndGlyphs" >PDCD1</text><text x="169.30" y="718.80" font-size="11.60" text-anchor="middle" textLength="16.00" lengthAdjust="spacingAndGlyphs" >&#8211;5</text><text x="194.35" y="718.80" font-size="11.80" font-weight="normal" text-anchor="middle"  >0</text><text x="217.60" y="718.80" font-size="11.80" font-weight="normal" text-anchor="middle"  >5</text><text x="241.45" y="718.80" font-size="11.80" font-weight="normal" text-anchor="middle"  >10</text><text x="199.70" y="628.80" font-size="10.60" text-anchor="middle" textLength="27.60" lengthAdjust="spacingAndGlyphs" >TIM3</text><text x="267.15" y="718.80" font-size="11.60" text-anchor="middle" textLength="16.00" lengthAdjust="spacingAndGlyphs" >&#8211;5</text><text x="292.20" y="718.80" font-size="11.80" font-weight="normal" text-anchor="middle"  >0</text><text x="315.45" y="718.80" font-size="11.80" font-weight="normal" text-anchor="middle"  >5</text><text x="339.30" y="718.80" font-size="11.80" font-weight="normal" text-anchor="middle"  >10</text><text x="300.00" y="628.80" font-size="10.60" text-anchor="middle" textLength="30.00" lengthAdjust="spacingAndGlyphs" >LAG3</text><text x="365.00" y="718.80" font-size="11.60" text-anchor="middle" textLength="16.00" lengthAdjust="spacingAndGlyphs" >&#8211;5</text><text x="390.05" y="718.80" font-size="11.80" font-weight="normal" text-anchor="middle"  >0</text><text x="413.30" y="718.80" font-size="11.80" font-weight="normal" text-anchor="middle"  >5</text><text x="437.15" y="718.80" font-size="11.80" font-weight="normal" text-anchor="middle"  >10</text><text x="395.70" y="628.80" font-size="10.60" text-anchor="middle" textLength="29.40" lengthAdjust="spacingAndGlyphs" >TIGIT</text><text x="245.95" y="738.50" font-size="13.40" text-anchor="middle" textLength="39.80" lengthAdjust="spacingAndGlyphs" >UMAP 1</text><g transform="translate(31.5 667.25) rotate(-90)"><text x="0.00" y="0.00" font-size="13.40" text-anchor="middle" textLength="39.40" lengthAdjust="spacingAndGlyphs" >UMAP 2</text></g><text x="459.00" y="613.40" font-size="10.60" text-anchor="start" textLength="35.60" lengthAdjust="spacingAndGlyphs" >Protein</text><text x="459.00" y="626.70" font-size="10.60" text-anchor="start" textLength="26.00" lengthAdjust="spacingAndGlyphs" >exprs</text></g><rect x="458.7" y="634.6" width="15.2" height="71.9" fill="url(#pl)"/><g stroke="#fff" stroke-width="0.8" opacity="0.7"><path d="M458.7 693.9h2.6M471.2 693.9h2.6"/><path d="M458.7 681.2h2.6M471.2 681.2h2.6"/><path d="M458.7 668.6h2.6M471.2 668.6h2.6"/><path d="M458.7 656.0h2.6M471.2 656.0h2.6"/><path d="M458.7 643.4h2.6M471.2 643.4h2.6"/></g><g font-family="Liberation Sans, sans-serif" fill="#141414"><text x="478.40" y="710.50" font-size="11.20" font-weight="normal" text-anchor="start"  >0</text><text x="478.40" y="697.87" font-size="11.20" font-weight="normal" text-anchor="start"  >1</text><text x="478.40" y="685.24" font-size="11.20" font-weight="normal" text-anchor="start"  >2</text><text x="478.40" y="672.61" font-size="11.20" font-weight="normal" text-anchor="start"  >3</text><text x="478.40" y="659.98" font-size="11.20" font-weight="normal" text-anchor="start"  >4</text><text x="478.40" y="647.35" font-size="11.20" font-weight="normal" text-anchor="start"  >5</text></g></svg></body></html>
